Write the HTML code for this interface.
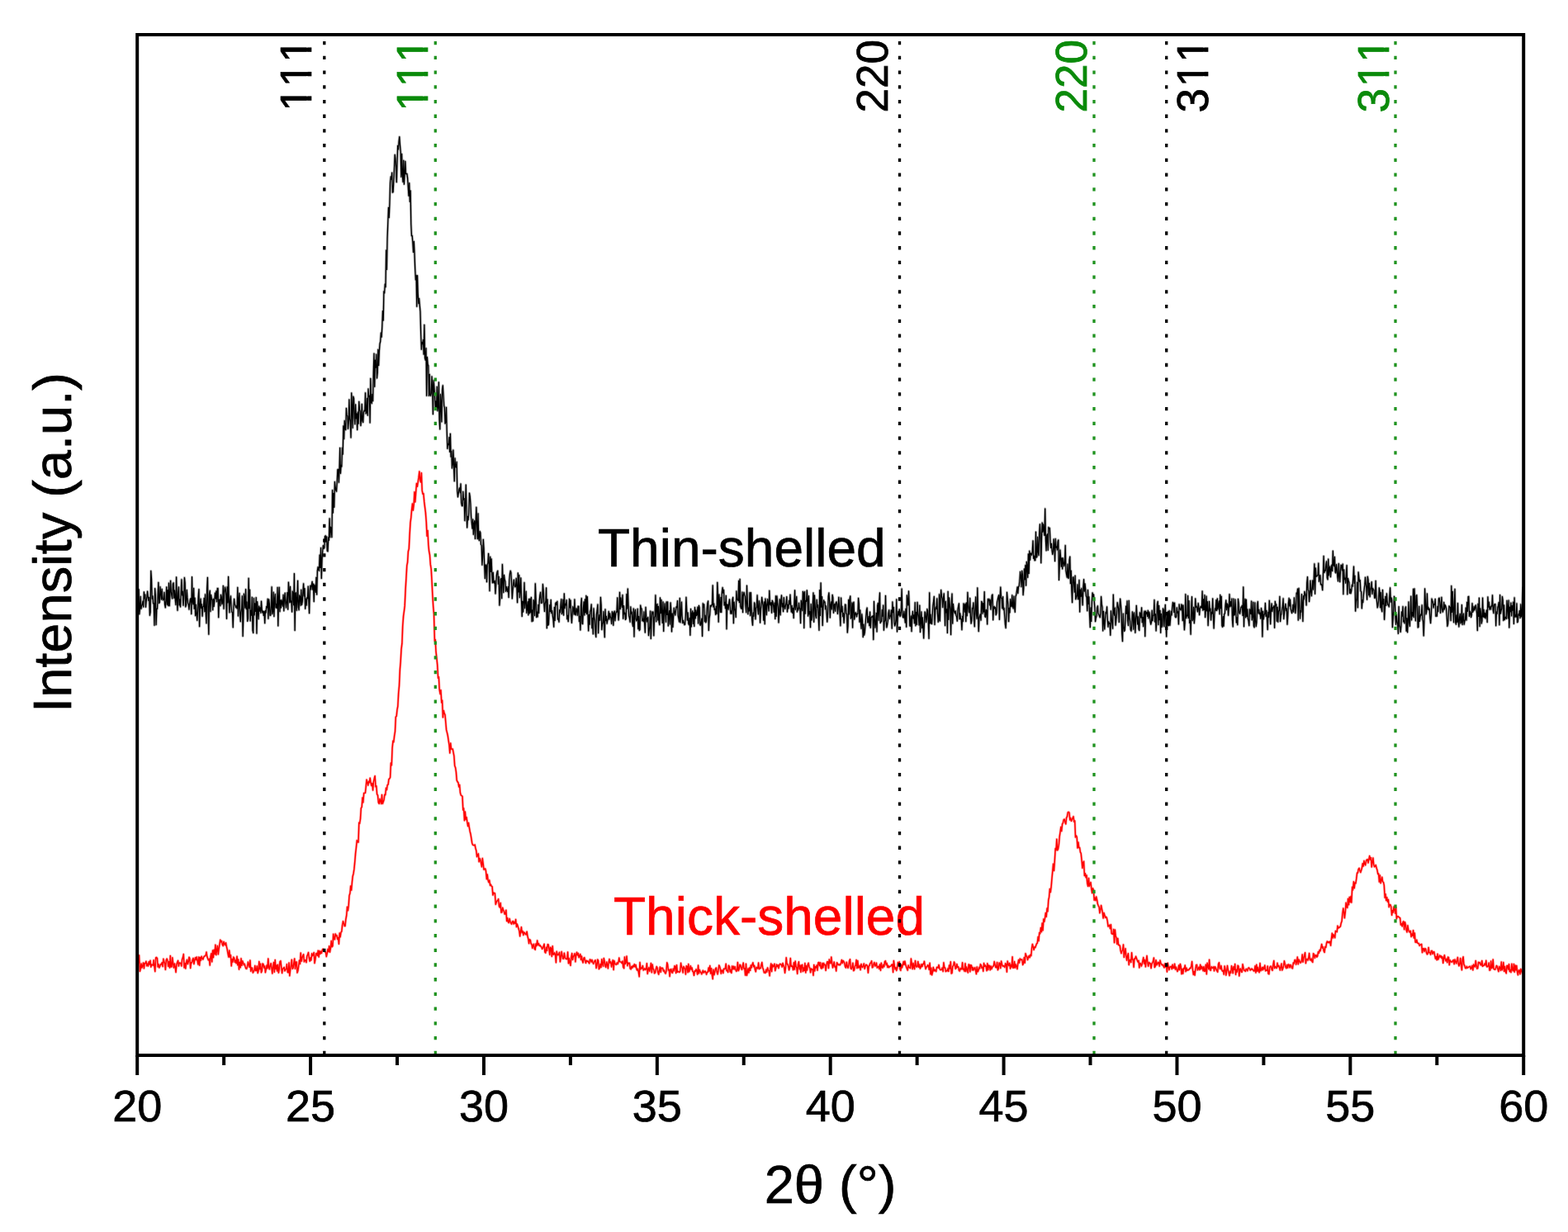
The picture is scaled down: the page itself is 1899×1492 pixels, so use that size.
<!DOCTYPE html>
<html><head><meta charset="utf-8"><style>
html,body{margin:0;padding:0;background:#fff;}
svg{display:block;}
text{font-family:"Liberation Sans",Arial,sans-serif;font-kerning:none;stroke-width:0.7px;}
</style></head><body>
<svg width="1899" height="1492" viewBox="0 0 1899 1492">
<rect width="1899" height="1492" fill="#fff"/>
<g font-size="53"><g transform="translate(377,136.5) rotate(-90)"><text x="1.74 31.22 60.69" fill="#000" stroke="#000">111</text><rect x="4.18" y="-5.76" width="10.53" height="7.56" fill="#fff"/><rect x="20.11" y="-5.76" width="10.12" height="7.56" fill="#fff"/><rect x="33.65" y="-5.76" width="10.53" height="7.56" fill="#fff"/><rect x="49.59" y="-5.76" width="10.12" height="7.56" fill="#fff"/><rect x="63.13" y="-5.76" width="10.53" height="7.56" fill="#fff"/><rect x="79.06" y="-5.76" width="10.12" height="7.56" fill="#fff"/></g><g transform="translate(518,136.5) rotate(-90)"><text x="1.74 31.22 60.69" fill="#0a8a0a" stroke="#0a8a0a">111</text><rect x="4.18" y="-5.76" width="10.53" height="7.56" fill="#fff"/><rect x="20.11" y="-5.76" width="10.12" height="7.56" fill="#fff"/><rect x="33.65" y="-5.76" width="10.53" height="7.56" fill="#fff"/><rect x="49.59" y="-5.76" width="10.12" height="7.56" fill="#fff"/><rect x="63.13" y="-5.76" width="10.53" height="7.56" fill="#fff"/><rect x="79.06" y="-5.76" width="10.12" height="7.56" fill="#fff"/></g><g transform="translate(1075,136.5) rotate(-90)"><text x="0.00 29.48 58.95" fill="#000" stroke="#000">220</text></g><g transform="translate(1315.5,136.5) rotate(-90)"><text x="0.00 29.48 58.95" fill="#0a8a0a" stroke="#0a8a0a">220</text></g><g transform="translate(1463,136.5) rotate(-90)"><text x="0.00 31.22 60.69" fill="#000" stroke="#000">311</text><rect x="33.65" y="-5.76" width="10.53" height="7.56" fill="#fff"/><rect x="49.59" y="-5.76" width="10.12" height="7.56" fill="#fff"/><rect x="63.13" y="-5.76" width="10.53" height="7.56" fill="#fff"/><rect x="79.06" y="-5.76" width="10.12" height="7.56" fill="#fff"/></g><g transform="translate(1681.5,136.5) rotate(-90)"><text x="0.00 31.22 60.69" fill="#0a8a0a" stroke="#0a8a0a">311</text><rect x="33.65" y="-5.76" width="10.53" height="7.56" fill="#fff"/><rect x="49.59" y="-5.76" width="10.12" height="7.56" fill="#fff"/><rect x="63.13" y="-5.76" width="10.53" height="7.56" fill="#fff"/><rect x="79.06" y="-5.76" width="10.12" height="7.56" fill="#fff"/></g></g>
<text x="724" y="686" font-size="64" fill="#000" stroke="#000">Thin-shelled</text>
<text x="743" y="1132" font-size="64" fill="#ff0000" stroke="#ff0000">Thick-shelled</text>
<g><path d="M166.0 738.7L166.7 744.6L167.4 737.1L168.1 713.9L168.8 743.7L169.5 736.7L170.2 722.4L170.9 737.3L171.6 733.7L172.3 732.2L173.0 728.1L173.7 735.0L174.4 716.9L175.1 724.7L175.8 720.2L176.5 735.2L177.2 727.5L177.9 722.9L178.6 716.2L179.3 723.5L180.0 727.3L180.7 723.4L181.4 745.2L182.1 741.3L182.8 691.5L183.5 701.4L184.2 725.2L184.9 721.9L185.6 730.8L186.3 730.9L187.0 757.3L187.7 712.7L188.4 722.9L189.1 756.5L189.8 737.2L190.5 737.4L191.2 721.1L191.9 705.4L192.6 730.4L193.3 729.4L194.0 710.7L194.7 717.9L195.4 726.0L196.1 713.4L196.8 724.7L197.5 726.8L198.2 725.5L198.9 717.4L199.6 732.2L200.3 735.8L201.0 727.4L201.7 711.0L202.4 732.2L203.1 714.6L203.8 733.5L204.5 706.1L205.2 733.6L205.9 720.4L206.6 703.3L207.3 716.4L208.0 721.6L208.7 724.8L209.4 707.4L210.1 705.8L210.8 724.2L211.5 715.0L212.2 724.9L212.9 732.4L213.6 698.9L214.3 725.6L215.0 739.2L215.7 718.1L216.4 711.0L217.1 732.9L217.8 726.0L218.5 734.9L219.2 717.6L219.9 701.8L220.6 720.9L221.3 716.2L222.0 733.2L222.7 725.0L223.4 699.6L224.1 705.7L224.8 734.9L225.5 732.4L226.2 714.4L226.9 723.9L227.6 730.7L228.3 731.6L229.0 738.0L229.7 730.2L230.4 726.1L231.1 724.6L231.8 743.6L232.5 698.7L233.2 728.7L233.9 731.8L234.6 712.4L235.3 737.2L236.0 724.2L236.7 745.6L237.4 732.3L238.1 743.5L238.8 751.3L239.5 739.8L240.2 722.5L240.9 713.7L241.6 758.7L242.3 733.1L243.0 725.1L243.7 736.5L244.4 731.9L245.1 746.2L245.8 734.9L246.5 734.5L247.2 724.4L247.9 740.6L248.6 719.8L249.3 743.1L250.0 754.8L250.7 712.6L251.4 699.4L252.1 741.8L252.8 768.2L253.5 719.0L254.2 715.3L254.9 740.5L255.6 720.5L256.3 724.9L257.0 726.8L257.7 738.6L258.4 725.3L259.1 734.4L259.8 727.7L260.5 718.1L261.2 724.9L261.9 715.8L262.6 728.7L263.3 712.6L264.0 712.6L264.7 747.7L265.4 726.3L266.1 726.0L266.8 733.6L267.5 720.3L268.2 722.8L268.9 731.7L269.6 729.6L270.3 709.5L271.0 737.2L271.7 717.4L272.4 711.1L273.1 713.5L273.8 720.9L274.5 749.3L275.2 710.8L275.9 729.9L276.6 698.5L277.3 728.7L278.0 741.8L278.7 726.6L279.4 721.8L280.1 734.2L280.8 741.3L281.5 741.3L282.2 759.8L282.9 735.9L283.6 725.3L284.3 732.0L285.0 733.0L285.7 735.7L286.4 733.9L287.1 736.8L287.8 711.5L288.5 745.9L289.2 726.6L289.9 718.4L290.6 743.4L291.3 752.7L292.0 741.4L292.7 736.8L293.4 721.8L294.1 770.4L294.8 746.8L295.5 719.1L296.2 724.1L296.9 736.1L297.6 713.7L298.3 737.5L299.0 729.0L299.7 752.3L300.4 748.9L301.1 700.3L301.8 736.7L302.5 714.2L303.2 751.9L303.9 739.4L304.6 745.0L305.3 723.3L306.0 763.3L306.7 766.4L307.4 724.6L308.1 744.8L308.8 730.9L309.5 740.3L310.2 723.7L310.9 767.1L311.6 728.7L312.3 738.3L313.0 749.6L313.7 734.2L314.4 740.2L315.1 736.0L315.8 742.2L316.5 728.2L317.2 738.5L317.9 741.8L318.6 740.1L319.3 745.4L320.0 740.5L320.7 754.7L321.4 739.7L322.1 742.0L322.8 734.4L323.5 735.9L324.2 725.3L324.9 749.2L325.6 725.9L326.3 730.8L327.0 745.3L327.7 745.2L328.4 733.6L329.1 710.8L329.8 743.5L330.5 740.7L331.2 717.2L331.9 746.5L332.6 725.9L333.3 719.6L334.0 735.9L334.7 731.7L335.4 736.6L336.1 711.4L336.8 757.9L337.5 724.5L338.2 711.3L338.9 740.6L339.6 727.0L340.3 736.0L341.0 726.6L341.7 730.2L342.4 734.2L343.1 720.4L343.8 739.8L344.5 723.8L345.2 718.2L345.9 731.0L346.6 735.9L347.3 726.6L348.0 717.7L348.7 738.0L349.4 705.2L350.1 715.1L350.8 729.7L351.5 710.4L352.2 729.3L352.9 728.1L353.6 741.0L354.3 716.1L355.0 719.9L355.7 732.8L356.4 694.7L357.1 763.4L357.8 718.4L358.5 717.8L359.2 739.3L359.9 727.0L360.6 703.3L361.3 735.7L362.0 738.7L362.7 720.9L363.4 723.1L364.1 733.3L364.8 714.3L365.5 732.3L366.2 728.8L366.9 716.8L367.6 706.8L368.3 721.9L369.0 712.7L369.7 737.2L370.4 725.2L371.1 733.0L371.8 723.7L372.5 724.8L373.2 710.2L373.9 728.7L374.6 742.6L375.3 714.0L376.0 709.2L376.7 713.9L377.4 708.5L378.1 704.4L378.8 714.2L379.5 707.2L380.2 728.5L380.9 708.2L381.6 710.9L382.3 717.4L383.0 699.3L383.7 720.0L384.4 691.1L385.1 686.7L385.8 690.2L386.5 691.2L387.2 672.1L387.9 687.4L388.6 663.6L389.3 700.4L390.0 678.1L390.7 667.5L391.4 660.7L392.1 664.3L392.8 663.3L393.5 649.7L394.2 648.8L394.9 656.2L395.6 649.9L396.3 667.1L397.0 667.7L397.7 650.9L398.4 654.3L399.1 628.0L399.8 650.5L400.5 638.2L401.2 640.9L401.9 650.5L402.6 593.7L403.3 621.0L404.0 597.3L404.7 614.3L405.4 583.6L406.1 589.3L406.8 593.8L407.5 595.1L408.2 584.1L408.9 568.8L409.6 568.4L410.3 584.2L411.0 568.6L411.7 542.5L412.4 573.3L413.1 563.5L413.8 565.1L414.5 542.3L415.2 550.1L415.9 515.8L416.6 531.6L417.3 509.6L418.0 519.8L418.7 520.5L419.4 494.5L420.1 503.3L420.8 503.7L421.5 519.2L422.2 511.8L422.9 484.0L423.6 507.1L424.3 510.8L425.0 529.9L425.7 476.0L426.4 491.9L427.1 518.2L427.8 480.2L428.5 482.4L429.2 506.6L429.9 513.6L430.6 489.9L431.3 506.8L432.0 500.9L432.7 520.5L433.4 499.1L434.1 513.0L434.8 486.4L435.5 496.4L436.2 497.8L436.9 515.4L437.6 507.8L438.3 489.5L439.0 509.9L439.7 511.4L440.4 499.2L441.1 497.2L441.8 497.8L442.5 475.8L443.2 500.9L443.9 499.9L444.6 482.4L445.3 503.0L446.0 471.0L446.7 480.4L447.4 479.4L448.1 511.9L448.8 458.4L449.5 486.2L450.2 488.6L450.9 477.4L451.6 485.6L452.3 450.5L453.0 428.2L453.7 468.3L454.4 436.1L455.1 445.2L455.8 429.2L456.5 457.9L457.2 451.0L457.9 423.3L458.6 442.5L459.3 425.8L460.0 416.5L460.7 413.5L461.4 403.1L462.1 408.1L462.8 395.5L463.5 376.7L464.2 388.0L464.9 352.9L465.6 355.0L466.3 344.2L467.0 347.6L467.7 303.1L468.4 326.4L469.1 288.1L469.8 269.7L470.5 251.4L471.2 263.5L471.9 247.1L472.6 221.1L473.3 214.0L474.0 217.2L474.7 209.2L475.4 233.1L476.1 232.5L476.8 218.6L477.5 205.0L478.2 187.5L478.9 191.8L479.6 202.3L480.3 220.6L481.0 198.0L481.7 176.5L482.4 180.9L483.1 171.3L483.8 165.7L484.5 176.2L485.2 184.2L485.9 214.3L486.6 186.4L487.3 210.9L488.0 220.3L488.7 194.3L489.4 223.1L490.1 211.2L490.8 195.5L491.5 210.7L492.2 210.5L492.9 210.4L493.6 215.6L494.3 226.5L495.0 237.1L495.7 221.7L496.4 244.3L497.1 230.9L497.8 271.3L498.5 285.6L499.2 285.4L499.9 294.0L500.6 305.4L501.3 292.4L502.0 306.6L502.7 325.4L503.4 338.8L504.1 333.5L504.8 371.2L505.5 333.7L506.2 355.9L506.9 367.5L507.6 361.5L508.3 369.8L509.0 377.4L509.7 403.9L510.4 423.1L511.1 414.5L511.8 416.5L512.5 411.6L513.2 429.1L513.9 393.4L514.6 433.5L515.3 436.2L516.0 421.7L516.7 479.2L517.4 432.5L518.1 441.2L518.8 442.8L519.5 479.3L520.2 453.3L520.9 478.2L521.6 479.3L522.3 476.6L523.0 456.0L523.7 467.6L524.4 501.6L525.1 460.7L525.8 468.3L526.5 478.8L527.2 493.3L527.9 486.0L528.6 493.5L529.3 468.3L530.0 497.6L530.7 493.0L531.4 463.0L532.1 508.3L532.8 519.8L533.5 477.6L534.2 490.4L534.9 510.8L535.6 472.0L536.3 466.8L537.0 478.8L537.7 491.3L538.4 493.6L539.1 512.9L539.8 511.2L540.5 493.3L541.2 521.8L541.9 543.3L542.6 537.6L543.3 538.7L544.0 529.7L544.7 547.3L545.4 525.3L546.1 553.2L546.8 546.3L547.5 567.0L548.2 562.1L548.9 545.1L549.6 564.8L550.3 582.7L551.0 554.9L551.7 565.7L552.4 566.0L553.1 559.5L553.8 594.6L554.5 601.8L555.2 597.6L555.9 592.6L556.6 590.9L557.3 596.6L558.0 586.0L558.7 608.8L559.4 612.5L560.1 612.7L560.8 595.5L561.5 605.0L562.2 603.6L562.9 630.4L563.6 611.6L564.3 587.2L565.0 618.1L565.7 638.9L566.4 625.4L567.1 629.7L567.8 620.8L568.5 597.2L569.2 601.1L569.9 610.0L570.6 626.0L571.3 633.3L572.0 640.0L572.7 629.0L573.4 647.2L574.1 633.8L574.8 630.7L575.5 652.4L576.2 632.8L576.9 614.3L577.6 635.8L578.3 652.5L579.0 621.9L579.7 651.8L580.4 654.5L581.1 643.4L581.8 645.0L582.5 659.5L583.2 660.5L583.9 684.2L584.6 675.3L585.3 653.4L586.0 664.0L586.7 684.4L587.4 700.4L588.1 684.0L588.8 684.7L589.5 704.7L590.2 683.9L590.9 682.0L591.6 670.4L592.3 682.4L593.0 715.6L593.7 674.3L594.4 692.4L595.1 676.8L595.8 695.9L596.5 705.8L597.2 693.3L597.9 705.5L598.6 706.0L599.3 703.5L600.0 718.9L600.7 708.5L601.4 696.5L602.1 692.6L602.8 691.3L603.5 707.2L604.2 698.5L604.9 733.0L605.6 724.8L606.3 701.4L607.0 700.6L607.7 724.6L608.4 683.6L609.1 700.7L609.8 717.5L610.5 696.4L611.2 702.0L611.9 703.9L612.6 716.1L613.3 710.6L614.0 714.1L614.7 716.7L615.4 710.6L616.1 723.4L616.8 702.6L617.5 694.8L618.2 691.3L618.9 693.5L619.6 706.3L620.3 724.9L621.0 715.5L621.7 707.1L622.4 702.2L623.1 708.9L623.8 710.9L624.5 709.7L625.2 700.3L625.9 711.9L626.6 729.7L627.3 694.0L628.0 716.9L628.7 696.4L629.4 723.6L630.1 714.1L630.8 699.9L631.5 725.8L632.2 746.4L632.9 728.1L633.6 741.0L634.3 728.1L635.0 705.6L635.7 736.5L636.4 727.1L637.1 716.2L637.8 742.3L638.5 737.3L639.2 728.7L639.9 744.8L640.6 725.6L641.3 742.8L642.0 725.1L642.7 741.8L643.4 723.5L644.1 752.6L644.8 738.8L645.5 752.0L646.2 726.7L646.9 730.6L647.6 745.4L648.3 706.8L649.0 724.0L649.7 747.5L650.4 741.2L651.1 747.0L651.8 732.6L652.5 742.4L653.2 728.0L653.9 720.8L654.6 717.3L655.3 730.2L656.0 730.3L656.7 729.5L657.4 707.6L658.1 714.5L658.8 731.1L659.5 740.4L660.2 730.9L660.9 727.8L661.6 711.9L662.3 760.7L663.0 725.9L663.7 757.3L664.4 756.2L665.1 741.9L665.8 732.7L666.5 740.7L667.2 726.5L667.9 742.5L668.6 739.7L669.3 745.7L670.0 750.5L670.7 759.2L671.4 735.4L672.1 751.4L672.8 730.8L673.5 729.6L674.2 732.5L674.9 728.3L675.6 750.2L676.3 749.4L677.0 753.2L677.7 738.6L678.4 741.8L679.1 732.2L679.8 725.7L680.5 743.5L681.2 741.5L681.9 726.1L682.6 745.0L683.3 718.9L684.0 736.5L684.7 731.5L685.4 732.8L686.1 726.7L686.8 749.7L687.5 745.5L688.2 752.6L688.9 741.1L689.6 725.3L690.3 735.8L691.0 727.0L691.7 745.6L692.4 754.3L693.1 744.7L693.8 734.6L694.5 737.4L695.2 744.1L695.9 725.9L696.6 744.0L697.3 744.8L698.0 736.7L698.7 738.3L699.4 745.1L700.1 734.2L700.8 734.4L701.5 752.6L702.2 746.5L702.9 763.0L703.6 733.3L704.3 724.6L705.0 755.2L705.7 755.6L706.4 736.8L707.1 728.8L707.8 744.9L708.5 725.9L709.2 741.9L709.9 721.5L710.6 743.5L711.3 722.7L712.0 744.0L712.7 763.9L713.4 744.3L714.1 756.2L714.8 740.7L715.5 738.3L716.2 731.9L716.9 760.6L717.6 748.7L718.3 767.8L719.0 736.8L719.7 747.7L720.4 751.4L721.1 766.6L721.8 771.4L722.5 743.9L723.2 738.7L723.9 732.1L724.6 766.6L725.3 750.8L726.0 744.6L726.7 751.3L727.4 723.4L728.1 732.6L728.8 762.5L729.5 756.4L730.2 753.7L730.9 740.7L731.6 758.5L732.3 771.7L733.0 738.0L733.7 751.7L734.4 746.5L735.1 755.2L735.8 751.1L736.5 749.0L737.2 740.5L737.9 749.9L738.6 742.8L739.3 747.7L740.0 748.1L740.7 755.4L741.4 740.7L742.1 742.7L742.8 757.3L743.5 741.8L744.2 740.2L744.9 751.7L745.6 744.0L746.3 740.8L747.0 741.2L747.7 723.9L748.4 742.0L749.1 750.9L749.8 741.8L750.5 717.3L751.2 737.5L751.9 723.8L752.6 731.3L753.3 735.4L754.0 720.6L754.7 749.2L755.4 733.7L756.1 743.6L756.8 742.1L757.5 750.4L758.2 749.1L758.9 719.6L759.6 737.0L760.3 713.1L761.0 732.4L761.7 745.9L762.4 748.5L763.1 753.2L763.8 734.9L764.5 743.2L765.2 741.1L765.9 754.6L766.6 758.6L767.3 737.1L768.0 771.0L768.7 741.9L769.4 738.3L770.1 749.7L770.8 752.0L771.5 750.1L772.2 737.3L772.9 761.6L773.6 746.3L774.3 763.5L775.0 762.4L775.7 733.1L776.4 736.9L777.1 737.1L777.8 751.6L778.5 749.8L779.2 752.6L779.9 740.8L780.6 754.9L781.3 766.0L782.0 735.4L782.7 748.1L783.4 753.0L784.1 748.7L784.8 747.7L785.5 769.5L786.2 763.8L786.9 758.6L787.6 740.1L788.3 773.4L789.0 751.9L789.7 740.9L790.4 743.1L791.1 741.0L791.8 769.8L792.5 747.9L793.2 745.9L793.9 720.8L794.6 752.8L795.3 732.5L796.0 731.5L796.7 751.0L797.4 734.4L798.1 753.4L798.8 756.6L799.5 724.0L800.2 742.6L800.9 726.5L801.6 743.4L802.3 754.4L803.0 728.9L803.7 764.4L804.4 740.8L805.1 731.0L805.8 742.9L806.5 753.2L807.2 728.9L807.9 744.4L808.6 729.0L809.3 757.9L810.0 746.1L810.7 739.6L811.4 756.0L812.1 729.9L812.8 739.9L813.5 764.9L814.2 742.8L814.9 759.4L815.6 746.3L816.3 736.3L817.0 741.4L817.7 745.0L818.4 739.6L819.1 734.9L819.8 735.5L820.5 727.7L821.2 745.6L821.9 748.8L822.6 752.9L823.3 724.4L824.0 753.8L824.7 744.7L825.4 729.1L826.1 746.3L826.8 754.5L827.5 751.4L828.2 753.9L828.9 756.6L829.6 756.2L830.3 746.0L831.0 723.3L831.7 738.3L832.4 751.0L833.1 742.0L833.8 755.2L834.5 756.7L835.2 748.5L835.9 769.3L836.6 737.5L837.3 759.0L838.0 743.4L838.7 740.0L839.4 755.4L840.1 741.9L840.8 758.4L841.5 735.6L842.2 748.9L842.9 739.0L843.6 745.6L844.3 743.9L845.0 735.2L845.7 754.9L846.4 733.4L847.1 736.0L847.8 756.7L848.5 757.2L849.2 753.3L849.9 749.2L850.6 770.4L851.3 730.8L852.0 735.4L852.7 732.0L853.4 752.6L854.1 745.2L854.8 753.8L855.5 751.7L856.2 737.7L856.9 730.5L857.6 728.0L858.3 763.4L859.0 749.0L859.7 744.3L860.4 733.4L861.1 734.6L861.8 732.6L862.5 732.5L863.2 708.9L863.9 734.9L864.6 731.1L865.3 738.4L866.0 737.3L866.7 744.3L867.4 734.4L868.1 743.3L868.8 705.4L869.5 721.6L870.2 753.2L870.9 720.0L871.6 730.4L872.3 741.4L873.0 723.4L873.7 741.4L874.4 717.1L875.1 711.6L875.8 718.1L876.5 714.5L877.2 732.9L877.9 729.5L878.6 736.8L879.3 721.4L880.0 761.7L880.7 732.0L881.4 732.6L882.1 738.2L882.8 730.3L883.5 725.9L884.2 733.9L884.9 743.1L885.6 740.2L886.3 743.2L887.0 726.1L887.7 723.5L888.4 754.7L889.1 729.2L889.8 737.1L890.5 739.9L891.2 747.4L891.9 716.0L892.6 725.7L893.3 726.1L894.0 727.4L894.7 703.5L895.4 729.6L896.1 701.4L896.8 734.0L897.5 736.6L898.2 737.3L898.9 717.1L899.6 741.6L900.3 721.2L901.0 717.4L901.7 720.4L902.4 722.2L903.1 734.1L903.8 741.7L904.5 709.2L905.2 727.1L905.9 743.6L906.6 736.2L907.3 739.9L908.0 717.7L908.7 745.6L909.4 717.7L910.1 737.7L910.8 751.0L911.5 757.1L912.2 742.0L912.9 746.3L913.6 729.8L914.3 731.2L915.0 749.8L915.7 736.7L916.4 735.2L917.1 720.8L917.8 738.3L918.5 743.8L919.2 727.6L919.9 730.8L920.6 754.1L921.3 738.3L922.0 733.0L922.7 723.4L923.4 729.1L924.1 733.1L924.8 751.2L925.5 728.9L926.2 755.7L926.9 725.1L927.6 731.3L928.3 744.7L929.0 732.4L929.7 725.6L930.4 733.4L931.1 739.8L931.8 715.3L932.5 731.6L933.2 733.1L933.9 729.6L934.6 742.2L935.3 727.3L936.0 729.3L936.7 733.6L937.4 741.1L938.1 730.1L938.8 749.4L939.5 721.8L940.2 746.3L940.9 721.8L941.6 729.4L942.3 735.1L943.0 753.9L943.7 740.6L944.4 725.8L945.1 744.8L945.8 727.6L946.5 721.0L947.2 734.9L947.9 730.9L948.6 740.6L949.3 723.7L950.0 734.3L950.7 737.3L951.4 733.4L952.1 730.1L952.8 722.7L953.5 741.0L954.2 732.5L954.9 736.8L955.6 727.5L956.3 731.8L957.0 720.2L957.7 733.1L958.4 741.0L959.1 733.6L959.8 742.4L960.5 736.4L961.2 748.4L961.9 731.0L962.6 714.9L963.3 738.3L964.0 731.6L964.7 722.6L965.4 741.0L966.1 736.7L966.8 738.9L967.5 730.3L968.2 736.5L968.9 737.3L969.6 754.6L970.3 727.3L971.0 735.1L971.7 739.5L972.4 716.4L973.1 718.0L973.8 760.5L974.5 716.6L975.2 743.1L975.9 727.3L976.6 728.4L977.3 714.9L978.0 727.1L978.7 746.0L979.4 721.7L980.1 743.9L980.8 740.7L981.5 759.7L982.2 731.7L982.9 751.1L983.6 746.8L984.3 733.5L985.0 717.9L985.7 753.3L986.4 721.0L987.1 730.8L987.8 745.9L988.5 748.4L989.2 726.3L989.9 735.2L990.6 732.6L991.3 748.6L992.0 763.3L992.7 714.7L993.4 745.4L994.1 706.0L994.8 735.2L995.5 722.7L996.2 757.4L996.9 737.0L997.6 727.0L998.3 729.7L999.0 729.0L999.7 737.7L1000.4 733.9L1001.1 743.1L1001.8 753.1L1002.5 743.8L1003.2 722.3L1003.9 717.9L1004.6 727.7L1005.3 748.0L1006.0 732.5L1006.7 728.8L1007.4 737.9L1008.1 720.5L1008.8 723.7L1009.5 742.2L1010.2 733.1L1010.9 731.4L1011.6 740.1L1012.3 730.0L1013.0 728.9L1013.7 731.4L1014.4 743.3L1015.1 737.3L1015.8 723.3L1016.5 733.3L1017.2 744.0L1017.9 757.8L1018.6 724.1L1019.3 740.9L1020.0 734.3L1020.7 746.6L1021.4 742.6L1022.1 754.3L1022.8 743.8L1023.5 732.1L1024.2 732.4L1024.9 743.2L1025.6 743.3L1026.3 766.0L1027.0 758.2L1027.7 726.5L1028.4 743.9L1029.1 725.3L1029.8 722.0L1030.5 749.1L1031.2 747.3L1031.9 729.8L1032.6 760.1L1033.3 731.0L1034.0 729.2L1034.7 750.0L1035.4 745.5L1036.1 741.7L1036.8 743.1L1037.5 746.8L1038.2 743.2L1038.9 743.3L1039.6 724.4L1040.3 731.0L1041.0 753.3L1041.7 738.9L1042.4 753.3L1043.1 761.3L1043.8 743.8L1044.5 751.2L1045.2 771.5L1045.9 756.2L1046.6 769.2L1047.3 765.8L1048.0 757.1L1048.7 747.5L1049.4 739.2L1050.1 736.1L1050.8 753.9L1051.5 753.6L1052.2 746.3L1052.9 757.6L1053.6 741.1L1054.3 760.2L1055.0 748.0L1055.7 746.9L1056.4 747.1L1057.1 745.8L1057.8 774.6L1058.5 728.5L1059.2 748.3L1059.9 760.1L1060.6 753.9L1061.3 742.3L1062.0 765.0L1062.7 733.4L1063.4 730.5L1064.1 751.3L1064.8 728.5L1065.5 718.0L1066.2 754.4L1066.9 752.9L1067.6 752.5L1068.3 738.7L1069.0 746.1L1069.7 733.1L1070.4 763.2L1071.1 752.5L1071.8 751.8L1072.5 721.5L1073.2 752.3L1073.9 759.9L1074.6 756.6L1075.3 751.7L1076.0 742.7L1076.7 738.8L1077.4 749.3L1078.1 746.7L1078.8 745.0L1079.5 738.8L1080.2 761.0L1080.9 729.0L1081.6 741.7L1082.3 735.4L1083.0 753.4L1083.7 757.9L1084.4 755.7L1085.1 750.2L1085.8 726.0L1086.5 765.0L1087.2 747.5L1087.9 740.5L1088.6 742.0L1089.3 737.9L1090.0 746.5L1090.7 745.3L1091.4 737.8L1092.1 713.1L1092.8 741.6L1093.5 747.4L1094.2 748.0L1094.9 740.5L1095.6 747.4L1096.3 754.0L1097.0 737.3L1097.7 759.2L1098.4 721.0L1099.1 728.9L1099.8 733.0L1100.5 716.0L1101.2 732.5L1101.9 758.0L1102.6 758.3L1103.3 746.0L1104.0 764.6L1104.7 748.4L1105.4 740.5L1106.1 749.0L1106.8 744.9L1107.5 754.8L1108.2 729.7L1108.9 757.8L1109.6 741.5L1110.3 756.3L1111.0 729.5L1111.7 742.1L1112.4 747.7L1113.1 756.9L1113.8 733.2L1114.5 765.5L1115.2 752.3L1115.9 741.0L1116.6 760.5L1117.3 748.0L1118.0 759.9L1118.7 772.9L1119.4 755.5L1120.1 741.0L1120.8 742.2L1121.5 753.5L1122.2 750.2L1122.9 737.6L1123.6 739.5L1124.3 754.4L1125.0 773.3L1125.7 717.8L1126.4 754.9L1127.1 744.2L1127.8 754.9L1128.5 755.5L1129.2 745.9L1129.9 733.3L1130.6 728.4L1131.3 722.4L1132.0 756.4L1132.7 739.7L1133.4 735.2L1134.1 737.4L1134.8 724.8L1135.5 742.6L1136.2 753.3L1136.9 750.6L1137.6 719.8L1138.3 752.1L1139.0 727.8L1139.7 714.6L1140.4 722.0L1141.1 724.8L1141.8 735.5L1142.5 724.1L1143.2 718.8L1143.9 732.9L1144.6 757.6L1145.3 728.5L1146.0 741.8L1146.7 737.8L1147.4 766.4L1148.1 716.4L1148.8 750.3L1149.5 724.0L1150.2 732.1L1150.9 738.1L1151.6 768.6L1152.3 731.3L1153.0 719.1L1153.7 755.1L1154.4 731.5L1155.1 738.5L1155.8 741.2L1156.5 742.8L1157.2 740.0L1157.9 745.2L1158.6 746.7L1159.3 752.1L1160.0 737.9L1160.7 734.4L1161.4 731.0L1162.1 749.7L1162.8 742.8L1163.5 749.7L1164.2 749.7L1164.9 762.7L1165.6 746.3L1166.3 752.6L1167.0 730.9L1167.7 732.4L1168.4 741.2L1169.1 731.1L1169.8 752.6L1170.5 730.0L1171.2 745.7L1171.9 717.4L1172.6 732.5L1173.3 741.0L1174.0 741.8L1174.7 724.5L1175.4 745.6L1176.1 755.1L1176.8 751.3L1177.5 736.4L1178.2 736.9L1178.9 729.9L1179.6 750.0L1180.3 758.8L1181.0 736.4L1181.7 723.0L1182.4 743.9L1183.1 749.2L1183.8 711.9L1184.5 742.2L1185.2 764.6L1185.9 749.2L1186.6 745.9L1187.3 744.0L1188.0 751.1L1188.7 728.4L1189.4 729.3L1190.1 743.1L1190.8 730.7L1191.5 741.1L1192.2 716.7L1192.9 746.5L1193.6 747.4L1194.3 738.4L1195.0 739.7L1195.7 755.9L1196.4 725.6L1197.1 727.5L1197.8 725.4L1198.5 732.9L1199.2 726.3L1199.9 738.0L1200.6 730.2L1201.3 721.2L1202.0 720.0L1202.7 750.8L1203.4 736.3L1204.1 734.3L1204.8 737.0L1205.5 735.6L1206.2 744.7L1206.9 742.3L1207.6 729.1L1208.3 726.2L1209.0 722.9L1209.7 720.7L1210.4 750.3L1211.1 723.9L1211.8 711.1L1212.5 724.1L1213.2 724.4L1213.9 736.7L1214.6 722.7L1215.3 738.4L1216.0 736.4L1216.7 746.0L1217.4 755.9L1218.1 760.5L1218.8 746.0L1219.5 717.3L1220.2 725.4L1220.9 732.4L1221.6 752.6L1222.3 736.4L1223.0 741.8L1223.7 725.7L1224.4 733.8L1225.1 734.7L1225.8 720.8L1226.5 734.2L1227.2 736.9L1227.9 722.2L1228.6 734.9L1229.3 741.3L1230.0 722.4L1230.7 720.6L1231.4 715.9L1232.1 711.0L1232.8 718.4L1233.5 710.4L1234.2 710.0L1234.9 703.0L1235.6 692.5L1236.3 697.7L1237.0 710.6L1237.7 691.4L1238.4 695.8L1239.1 720.5L1239.8 712.4L1240.5 688.9L1241.2 701.8L1241.9 684.6L1242.6 709.0L1243.3 680.5L1244.0 686.0L1244.7 699.3L1245.4 670.9L1246.1 694.4L1246.8 667.3L1247.5 678.1L1248.2 670.0L1248.9 670.9L1249.6 672.2L1250.3 667.8L1251.0 654.9L1251.7 676.3L1252.4 673.1L1253.1 678.7L1253.8 678.6L1254.5 644.2L1255.2 675.1L1255.9 674.1L1256.6 650.5L1257.3 668.4L1258.0 672.4L1258.7 646.5L1259.4 635.0L1260.1 646.4L1260.8 681.7L1261.5 651.7L1262.2 633.1L1262.9 644.3L1263.6 634.8L1264.3 642.1L1265.0 648.4L1265.7 616.1L1266.4 652.9L1267.1 666.8L1267.8 648.0L1268.5 646.9L1269.2 666.3L1269.9 638.6L1270.6 640.2L1271.3 639.6L1272.0 655.7L1272.7 663.4L1273.4 658.4L1274.1 667.1L1274.8 671.3L1275.5 668.1L1276.2 653.0L1276.9 660.4L1277.6 679.6L1278.3 652.6L1279.0 663.1L1279.7 662.0L1280.4 665.9L1281.1 656.1L1281.8 654.0L1282.5 702.4L1283.2 684.5L1283.9 666.1L1284.6 675.6L1285.3 686.1L1286.0 675.7L1286.7 688.9L1287.4 675.9L1288.1 680.7L1288.8 685.6L1289.5 682.7L1290.2 660.6L1290.9 691.2L1291.6 695.4L1292.3 699.2L1293.0 683.2L1293.7 700.2L1294.4 700.0L1295.1 678.0L1295.8 674.2L1296.5 706.7L1297.2 691.2L1297.9 715.2L1298.6 729.6L1299.3 699.1L1300.0 699.0L1300.7 708.0L1301.4 717.1L1302.1 697.2L1302.8 725.7L1303.5 723.8L1304.2 720.9L1304.9 707.9L1305.6 725.5L1306.3 725.6L1307.0 702.6L1307.7 741.0L1308.4 714.1L1309.1 722.3L1309.8 712.6L1310.5 723.5L1311.2 732.8L1311.9 710.9L1312.6 701.7L1313.3 716.1L1314.0 706.9L1314.7 713.9L1315.4 721.8L1316.1 723.4L1316.8 739.7L1317.5 714.6L1318.2 731.3L1318.9 722.8L1319.6 745.2L1320.3 759.6L1321.0 735.8L1321.7 752.4L1322.4 728.8L1323.1 717.9L1323.8 722.6L1324.5 720.0L1325.2 727.8L1325.9 736.4L1326.6 752.6L1327.3 748.2L1328.0 746.1L1328.7 736.7L1329.4 733.8L1330.1 742.7L1330.8 744.3L1331.5 746.1L1332.2 747.7L1332.9 742.5L1333.6 722.6L1334.3 731.9L1335.0 735.4L1335.7 763.9L1336.4 740.3L1337.1 752.9L1337.8 761.9L1338.5 749.5L1339.2 741.5L1339.9 742.8L1340.6 734.8L1341.3 749.8L1342.0 759.1L1342.7 753.0L1343.4 755.3L1344.1 754.8L1344.8 769.3L1345.5 739.9L1346.2 748.8L1346.9 755.0L1347.6 761.2L1348.3 720.2L1349.0 741.6L1349.7 745.2L1350.4 736.1L1351.1 757.2L1351.8 750.3L1352.5 743.5L1353.2 729.7L1353.9 733.3L1354.6 737.2L1355.3 753.4L1356.0 734.7L1356.7 725.2L1357.4 732.2L1358.1 741.9L1358.8 767.3L1359.5 776.6L1360.2 743.2L1360.9 759.2L1361.6 764.4L1362.3 763.1L1363.0 747.4L1363.7 734.1L1364.4 743.2L1365.1 727.8L1365.8 751.4L1366.5 757.4L1367.2 727.5L1367.9 748.1L1368.6 752.0L1369.3 762.7L1370.0 764.1L1370.7 757.7L1371.4 741.0L1372.1 744.6L1372.8 762.2L1373.5 742.0L1374.2 748.3L1374.9 766.3L1375.6 750.2L1376.3 733.4L1377.0 745.5L1377.7 756.0L1378.4 746.8L1379.1 762.0L1379.8 763.4L1380.5 741.8L1381.2 743.5L1381.9 748.1L1382.6 735.9L1383.3 753.7L1384.0 747.6L1384.7 758.6L1385.4 743.2L1386.1 740.1L1386.8 770.6L1387.5 740.1L1388.2 743.4L1388.9 741.7L1389.6 746.3L1390.3 739.3L1391.0 748.8L1391.7 741.2L1392.4 744.2L1393.1 752.6L1393.8 756.1L1394.5 753.1L1395.2 739.3L1395.9 751.6L1396.6 745.4L1397.3 745.1L1398.0 726.6L1398.7 753.1L1399.4 743.6L1400.1 763.9L1400.8 751.6L1401.5 731.6L1402.2 728.4L1402.9 756.4L1403.6 733.5L1404.3 750.7L1405.0 739.5L1405.7 766.3L1406.4 743.4L1407.1 759.4L1407.8 757.2L1408.5 737.0L1409.2 738.4L1409.9 758.7L1410.6 742.1L1411.3 732.4L1412.0 755.6L1412.7 770.9L1413.4 741.7L1414.1 757.9L1414.8 740.5L1415.5 757.5L1416.2 739.6L1416.9 757.3L1417.6 748.4L1418.3 740.3L1419.0 744.9L1419.7 736.2L1420.4 729.6L1421.1 730.3L1421.8 741.4L1422.5 730.1L1423.2 746.7L1423.9 747.7L1424.6 746.9L1425.3 735.9L1426.0 742.0L1426.7 740.9L1427.4 755.9L1428.1 731.9L1428.8 736.5L1429.5 738.0L1430.2 738.9L1430.9 732.0L1431.6 733.3L1432.3 751.6L1433.0 733.0L1433.7 750.3L1434.4 762.8L1435.1 754.3L1435.8 719.7L1436.5 748.6L1437.2 745.2L1437.9 746.0L1438.6 721.6L1439.3 748.4L1440.0 727.7L1440.7 754.4L1441.4 751.9L1442.1 768.2L1442.8 735.5L1443.5 722.7L1444.2 751.5L1444.9 749.5L1445.6 735.4L1446.3 754.8L1447.0 747.1L1447.7 724.9L1448.4 735.2L1449.1 734.0L1449.8 737.6L1450.5 740.8L1451.2 730.6L1451.9 736.0L1452.6 744.7L1453.3 737.1L1454.0 734.7L1454.7 734.2L1455.4 736.3L1456.1 715.9L1456.8 739.1L1457.5 725.7L1458.2 738.4L1458.9 720.7L1459.6 747.5L1460.3 739.8L1461.0 722.1L1461.7 739.9L1462.4 728.7L1463.1 757.5L1463.8 742.8L1464.5 728.4L1465.2 739.9L1465.9 737.1L1466.6 750.9L1467.3 741.5L1468.0 743.2L1468.7 724.9L1469.4 746.3L1470.1 760.9L1470.8 744.6L1471.5 737.0L1472.2 739.2L1472.9 726.7L1473.6 739.4L1474.3 725.0L1475.0 737.8L1475.7 732.9L1476.4 727.9L1477.1 743.7L1477.8 720.5L1478.5 736.7L1479.2 722.3L1479.9 757.7L1480.6 759.3L1481.3 746.6L1482.0 758.3L1482.7 743.7L1483.4 743.1L1484.1 732.3L1484.8 727.0L1485.5 738.5L1486.2 731.0L1486.9 732.2L1487.6 745.2L1488.3 735.7L1489.0 719.7L1489.7 734.8L1490.4 728.7L1491.1 734.0L1491.8 725.1L1492.5 750.9L1493.2 758.9L1493.9 725.2L1494.6 745.0L1495.3 744.6L1496.0 726.0L1496.7 739.2L1497.4 754.0L1498.1 747.8L1498.8 756.6L1499.5 725.5L1500.2 730.5L1500.9 742.3L1501.6 743.2L1502.3 739.7L1503.0 735.3L1503.7 735.3L1504.4 733.3L1505.1 745.4L1505.8 710.9L1506.5 758.8L1507.2 735.2L1507.9 725.4L1508.6 747.8L1509.3 726.2L1510.0 746.5L1510.7 737.9L1511.4 749.3L1512.1 751.8L1512.8 757.6L1513.5 737.8L1514.2 740.3L1514.9 743.6L1515.6 728.1L1516.3 750.8L1517.0 745.7L1517.7 729.4L1518.4 758.0L1519.1 759.8L1519.8 729.8L1520.5 751.0L1521.2 758.5L1521.9 753.9L1522.6 733.4L1523.3 728.6L1524.0 742.8L1524.7 738.3L1525.4 743.6L1526.1 742.3L1526.8 749.1L1527.5 736.6L1528.2 740.8L1528.9 771.1L1529.6 740.5L1530.3 749.9L1531.0 744.6L1531.7 743.5L1532.4 730.5L1533.1 746.3L1533.8 739.5L1534.5 749.0L1535.2 762.5L1535.9 741.3L1536.6 747.5L1537.3 727.3L1538.0 739.9L1538.7 755.8L1539.4 737.6L1540.1 731.0L1540.8 740.4L1541.5 736.0L1542.2 735.3L1542.9 733.8L1543.6 760.3L1544.3 728.3L1545.0 733.5L1545.7 731.8L1546.4 752.2L1547.1 735.3L1547.8 753.2L1548.5 740.5L1549.2 738.5L1549.9 722.5L1550.6 752.5L1551.3 745.1L1552.0 743.6L1552.7 737.8L1553.4 734.4L1554.1 724.8L1554.8 749.5L1555.5 741.8L1556.2 734.6L1556.9 731.4L1557.6 739.6L1558.3 737.0L1559.0 756.2L1559.7 746.2L1560.4 730.6L1561.1 724.5L1561.8 734.0L1562.5 726.1L1563.2 736.9L1563.9 740.2L1564.6 742.5L1565.3 739.7L1566.0 732.5L1566.7 741.1L1567.4 724.0L1568.1 732.7L1568.8 742.4L1569.5 736.1L1570.2 718.2L1570.9 719.0L1571.6 713.2L1572.3 751.1L1573.0 712.5L1573.7 727.7L1574.4 749.1L1575.1 739.6L1575.8 741.3L1576.5 719.7L1577.2 732.7L1577.9 752.4L1578.6 721.7L1579.3 725.8L1580.0 716.4L1580.7 718.8L1581.4 722.2L1582.1 732.9L1582.8 705.7L1583.5 698.7L1584.2 714.5L1584.9 715.6L1585.6 728.5L1586.3 719.6L1587.0 703.2L1587.7 716.1L1588.4 721.6L1589.1 711.1L1589.8 703.0L1590.5 714.0L1591.2 701.2L1591.9 682.8L1592.6 719.2L1593.3 688.0L1594.0 698.3L1594.7 697.8L1595.4 696.8L1596.1 696.5L1596.8 682.1L1597.5 704.2L1598.2 697.4L1598.9 696.7L1599.6 707.9L1600.3 707.4L1601.0 709.4L1601.7 714.6L1602.4 697.5L1603.1 673.4L1603.8 693.5L1604.5 690.8L1605.2 691.2L1605.9 683.2L1606.6 679.8L1607.3 699.7L1608.0 701.8L1608.7 677.1L1609.4 696.8L1610.1 688.5L1610.8 685.9L1611.5 698.7L1612.2 690.0L1612.9 684.2L1613.6 691.4L1614.3 667.2L1615.0 683.9L1615.7 685.7L1616.4 674.4L1617.1 693.0L1617.8 694.0L1618.5 683.7L1619.2 688.9L1619.9 699.0L1620.6 703.8L1621.3 682.6L1622.0 695.9L1622.7 704.6L1623.4 692.5L1624.1 684.3L1624.8 684.9L1625.5 690.8L1626.2 683.1L1626.9 719.6L1627.6 689.9L1628.3 701.7L1629.0 700.1L1629.7 706.1L1630.4 694.8L1631.1 684.7L1631.8 719.8L1632.5 700.4L1633.2 703.5L1633.9 705.2L1634.6 718.3L1635.3 713.3L1636.0 718.7L1636.7 715.4L1637.4 708.3L1638.1 710.2L1638.8 699.3L1639.5 686.1L1640.2 706.4L1640.9 697.3L1641.6 740.1L1642.3 728.7L1643.0 724.7L1643.7 705.3L1644.4 735.8L1645.1 692.9L1645.8 699.0L1646.5 704.4L1647.2 702.7L1647.9 715.6L1648.6 716.7L1649.3 736.8L1650.0 726.6L1650.7 729.5L1651.4 720.5L1652.1 714.3L1652.8 708.4L1653.5 699.2L1654.2 706.8L1654.9 712.7L1655.6 726.1L1656.3 698.3L1657.0 702.2L1657.7 720.7L1658.4 706.5L1659.1 722.7L1659.8 714.5L1660.5 711.0L1661.2 704.7L1661.9 719.3L1662.6 712.5L1663.3 714.2L1664.0 714.4L1664.7 724.2L1665.4 724.2L1666.1 703.4L1666.8 721.5L1667.5 728.3L1668.2 735.9L1668.9 733.3L1669.6 727.1L1670.3 712.0L1671.0 716.5L1671.7 735.8L1672.4 717.7L1673.1 737.6L1673.8 740.6L1674.5 714.4L1675.2 731.7L1675.9 725.7L1676.6 750.3L1677.3 737.2L1678.0 722.4L1678.7 733.3L1679.4 718.8L1680.1 728.0L1680.8 732.5L1681.5 732.5L1682.2 734.9L1682.9 721.8L1683.6 711.8L1684.3 729.2L1685.0 724.0L1685.7 726.9L1686.4 759.6L1687.1 749.5L1687.8 735.4L1688.5 722.3L1689.2 724.9L1689.9 745.5L1690.6 756.3L1691.3 744.3L1692.0 752.3L1692.7 756.3L1693.4 767.3L1694.1 734.7L1694.8 757.3L1695.5 759.8L1696.2 765.3L1696.9 758.5L1697.6 741.0L1698.3 746.0L1699.0 734.6L1699.7 752.9L1700.4 752.1L1701.1 754.8L1701.8 737.5L1702.5 734.9L1703.2 764.3L1703.9 748.7L1704.6 765.8L1705.3 750.7L1706.0 728.9L1706.7 753.9L1707.4 758.3L1708.1 739.1L1708.8 722.2L1709.5 750.9L1710.2 741.6L1710.9 746.0L1711.6 713.5L1712.3 747.5L1713.0 713.0L1713.7 732.3L1714.4 751.8L1715.1 721.3L1715.8 720.7L1716.5 736.5L1717.2 759.9L1717.9 759.5L1718.6 734.5L1719.3 752.4L1720.0 747.7L1720.7 744.0L1721.4 745.0L1722.1 732.8L1722.8 749.9L1723.5 752.7L1724.2 769.9L1724.9 750.9L1725.6 713.0L1726.3 726.9L1727.0 743.9L1727.7 740.8L1728.4 719.0L1729.1 738.0L1729.8 735.3L1730.5 738.5L1731.2 737.4L1731.9 748.8L1732.6 754.6L1733.3 745.5L1734.0 725.1L1734.7 727.5L1735.4 729.5L1736.1 736.0L1736.8 731.6L1737.5 732.2L1738.2 725.5L1738.9 746.3L1739.6 745.1L1740.3 746.1L1741.0 734.5L1741.7 740.5L1742.4 725.2L1743.1 724.2L1743.8 729.5L1744.5 742.3L1745.2 734.3L1745.9 723.3L1746.6 737.3L1747.3 741.2L1748.0 738.5L1748.7 729.5L1749.4 737.9L1750.1 732.6L1750.8 733.9L1751.5 736.7L1752.2 746.3L1752.9 758.4L1753.6 755.6L1754.3 745.3L1755.0 733.9L1755.7 735.0L1756.4 735.5L1757.1 751.5L1757.8 709.6L1758.5 741.6L1759.2 716.5L1759.9 738.8L1760.6 753.7L1761.3 728.8L1762.0 713.5L1762.7 753.6L1763.4 756.1L1764.1 744.9L1764.8 753.5L1765.5 730.6L1766.2 752.9L1766.9 759.0L1767.6 747.3L1768.3 743.5L1769.0 754.9L1769.7 753.4L1770.4 732.6L1771.1 756.4L1771.8 749.7L1772.5 743.2L1773.2 756.2L1773.9 752.1L1774.6 750.1L1775.3 736.1L1776.0 751.1L1776.7 729.3L1777.4 740.3L1778.1 722.6L1778.8 722.4L1779.5 746.3L1780.2 740.3L1780.9 742.0L1781.6 747.5L1782.3 744.7L1783.0 730.7L1783.7 741.3L1784.4 739.6L1785.1 734.5L1785.8 738.9L1786.5 736.2L1787.2 733.0L1787.9 736.5L1788.6 742.9L1789.3 763.5L1790.0 731.3L1790.7 746.4L1791.4 724.2L1792.1 758.5L1792.8 737.0L1793.5 742.3L1794.2 755.1L1794.9 751.9L1795.6 724.1L1796.3 747.1L1797.0 738.3L1797.7 747.7L1798.4 742.4L1799.1 748.9L1799.8 743.8L1800.5 738.9L1801.2 753.5L1801.9 722.9L1802.6 735.2L1803.3 729.2L1804.0 738.2L1804.7 734.9L1805.4 737.9L1806.1 733.9L1806.8 734.1L1807.5 720.8L1808.2 738.7L1808.9 742.5L1809.6 732.4L1810.3 731.6L1811.0 731.8L1811.7 757.8L1812.4 741.1L1813.1 743.4L1813.8 735.8L1814.5 733.6L1815.2 729.5L1815.9 756.8L1816.6 720.6L1817.3 743.1L1818.0 739.6L1818.7 737.2L1819.4 722.6L1820.1 726.5L1820.8 751.4L1821.5 732.8L1822.2 750.5L1822.9 748.2L1823.6 747.3L1824.3 749.4L1825.0 727.4L1825.7 735.8L1826.4 748.8L1827.1 727.1L1827.8 760.0L1828.5 735.1L1829.2 740.8L1829.9 730.1L1830.6 745.8L1831.3 733.6L1832.0 739.1L1832.7 729.2L1833.4 755.4L1834.1 723.8L1834.8 747.2L1835.5 744.9L1836.2 747.1L1836.9 730.8L1837.6 753.7L1838.3 752.9L1839.0 743.7L1839.7 745.2L1840.4 739.7L1841.1 748.4L1841.8 731.8L1842.5 746.9L1843.2 744.9L1843.9 724.3L1844.6 710.6" fill="none" stroke="#000" stroke-opacity="0.32" stroke-width="3.0" stroke-linejoin="round"/><path d="M166.0 738.7L166.7 744.6L167.4 737.1L168.1 713.9L168.8 743.7L169.5 736.7L170.2 722.4L170.9 737.3L171.6 733.7L172.3 732.2L173.0 728.1L173.7 735.0L174.4 716.9L175.1 724.7L175.8 720.2L176.5 735.2L177.2 727.5L177.9 722.9L178.6 716.2L179.3 723.5L180.0 727.3L180.7 723.4L181.4 745.2L182.1 741.3L182.8 691.5L183.5 701.4L184.2 725.2L184.9 721.9L185.6 730.8L186.3 730.9L187.0 757.3L187.7 712.7L188.4 722.9L189.1 756.5L189.8 737.2L190.5 737.4L191.2 721.1L191.9 705.4L192.6 730.4L193.3 729.4L194.0 710.7L194.7 717.9L195.4 726.0L196.1 713.4L196.8 724.7L197.5 726.8L198.2 725.5L198.9 717.4L199.6 732.2L200.3 735.8L201.0 727.4L201.7 711.0L202.4 732.2L203.1 714.6L203.8 733.5L204.5 706.1L205.2 733.6L205.9 720.4L206.6 703.3L207.3 716.4L208.0 721.6L208.7 724.8L209.4 707.4L210.1 705.8L210.8 724.2L211.5 715.0L212.2 724.9L212.9 732.4L213.6 698.9L214.3 725.6L215.0 739.2L215.7 718.1L216.4 711.0L217.1 732.9L217.8 726.0L218.5 734.9L219.2 717.6L219.9 701.8L220.6 720.9L221.3 716.2L222.0 733.2L222.7 725.0L223.4 699.6L224.1 705.7L224.8 734.9L225.5 732.4L226.2 714.4L226.9 723.9L227.6 730.7L228.3 731.6L229.0 738.0L229.7 730.2L230.4 726.1L231.1 724.6L231.8 743.6L232.5 698.7L233.2 728.7L233.9 731.8L234.6 712.4L235.3 737.2L236.0 724.2L236.7 745.6L237.4 732.3L238.1 743.5L238.8 751.3L239.5 739.8L240.2 722.5L240.9 713.7L241.6 758.7L242.3 733.1L243.0 725.1L243.7 736.5L244.4 731.9L245.1 746.2L245.8 734.9L246.5 734.5L247.2 724.4L247.9 740.6L248.6 719.8L249.3 743.1L250.0 754.8L250.7 712.6L251.4 699.4L252.1 741.8L252.8 768.2L253.5 719.0L254.2 715.3L254.9 740.5L255.6 720.5L256.3 724.9L257.0 726.8L257.7 738.6L258.4 725.3L259.1 734.4L259.8 727.7L260.5 718.1L261.2 724.9L261.9 715.8L262.6 728.7L263.3 712.6L264.0 712.6L264.7 747.7L265.4 726.3L266.1 726.0L266.8 733.6L267.5 720.3L268.2 722.8L268.9 731.7L269.6 729.6L270.3 709.5L271.0 737.2L271.7 717.4L272.4 711.1L273.1 713.5L273.8 720.9L274.5 749.3L275.2 710.8L275.9 729.9L276.6 698.5L277.3 728.7L278.0 741.8L278.7 726.6L279.4 721.8L280.1 734.2L280.8 741.3L281.5 741.3L282.2 759.8L282.9 735.9L283.6 725.3L284.3 732.0L285.0 733.0L285.7 735.7L286.4 733.9L287.1 736.8L287.8 711.5L288.5 745.9L289.2 726.6L289.9 718.4L290.6 743.4L291.3 752.7L292.0 741.4L292.7 736.8L293.4 721.8L294.1 770.4L294.8 746.8L295.5 719.1L296.2 724.1L296.9 736.1L297.6 713.7L298.3 737.5L299.0 729.0L299.7 752.3L300.4 748.9L301.1 700.3L301.8 736.7L302.5 714.2L303.2 751.9L303.9 739.4L304.6 745.0L305.3 723.3L306.0 763.3L306.7 766.4L307.4 724.6L308.1 744.8L308.8 730.9L309.5 740.3L310.2 723.7L310.9 767.1L311.6 728.7L312.3 738.3L313.0 749.6L313.7 734.2L314.4 740.2L315.1 736.0L315.8 742.2L316.5 728.2L317.2 738.5L317.9 741.8L318.6 740.1L319.3 745.4L320.0 740.5L320.7 754.7L321.4 739.7L322.1 742.0L322.8 734.4L323.5 735.9L324.2 725.3L324.9 749.2L325.6 725.9L326.3 730.8L327.0 745.3L327.7 745.2L328.4 733.6L329.1 710.8L329.8 743.5L330.5 740.7L331.2 717.2L331.9 746.5L332.6 725.9L333.3 719.6L334.0 735.9L334.7 731.7L335.4 736.6L336.1 711.4L336.8 757.9L337.5 724.5L338.2 711.3L338.9 740.6L339.6 727.0L340.3 736.0L341.0 726.6L341.7 730.2L342.4 734.2L343.1 720.4L343.8 739.8L344.5 723.8L345.2 718.2L345.9 731.0L346.6 735.9L347.3 726.6L348.0 717.7L348.7 738.0L349.4 705.2L350.1 715.1L350.8 729.7L351.5 710.4L352.2 729.3L352.9 728.1L353.6 741.0L354.3 716.1L355.0 719.9L355.7 732.8L356.4 694.7L357.1 763.4L357.8 718.4L358.5 717.8L359.2 739.3L359.9 727.0L360.6 703.3L361.3 735.7L362.0 738.7L362.7 720.9L363.4 723.1L364.1 733.3L364.8 714.3L365.5 732.3L366.2 728.8L366.9 716.8L367.6 706.8L368.3 721.9L369.0 712.7L369.7 737.2L370.4 725.2L371.1 733.0L371.8 723.7L372.5 724.8L373.2 710.2L373.9 728.7L374.6 742.6L375.3 714.0L376.0 709.2L376.7 713.9L377.4 708.5L378.1 704.4L378.8 714.2L379.5 707.2L380.2 728.5L380.9 708.2L381.6 710.9L382.3 717.4L383.0 699.3L383.7 720.0L384.4 691.1L385.1 686.7L385.8 690.2L386.5 691.2L387.2 672.1L387.9 687.4L388.6 663.6L389.3 700.4L390.0 678.1L390.7 667.5L391.4 660.7L392.1 664.3L392.8 663.3L393.5 649.7L394.2 648.8L394.9 656.2L395.6 649.9L396.3 667.1L397.0 667.7L397.7 650.9L398.4 654.3L399.1 628.0L399.8 650.5L400.5 638.2L401.2 640.9L401.9 650.5L402.6 593.7L403.3 621.0L404.0 597.3L404.7 614.3L405.4 583.6L406.1 589.3L406.8 593.8L407.5 595.1L408.2 584.1L408.9 568.8L409.6 568.4L410.3 584.2L411.0 568.6L411.7 542.5L412.4 573.3L413.1 563.5L413.8 565.1L414.5 542.3L415.2 550.1L415.9 515.8L416.6 531.6L417.3 509.6L418.0 519.8L418.7 520.5L419.4 494.5L420.1 503.3L420.8 503.7L421.5 519.2L422.2 511.8L422.9 484.0L423.6 507.1L424.3 510.8L425.0 529.9L425.7 476.0L426.4 491.9L427.1 518.2L427.8 480.2L428.5 482.4L429.2 506.6L429.9 513.6L430.6 489.9L431.3 506.8L432.0 500.9L432.7 520.5L433.4 499.1L434.1 513.0L434.8 486.4L435.5 496.4L436.2 497.8L436.9 515.4L437.6 507.8L438.3 489.5L439.0 509.9L439.7 511.4L440.4 499.2L441.1 497.2L441.8 497.8L442.5 475.8L443.2 500.9L443.9 499.9L444.6 482.4L445.3 503.0L446.0 471.0L446.7 480.4L447.4 479.4L448.1 511.9L448.8 458.4L449.5 486.2L450.2 488.6L450.9 477.4L451.6 485.6L452.3 450.5L453.0 428.2L453.7 468.3L454.4 436.1L455.1 445.2L455.8 429.2L456.5 457.9L457.2 451.0L457.9 423.3L458.6 442.5L459.3 425.8L460.0 416.5L460.7 413.5L461.4 403.1L462.1 408.1L462.8 395.5L463.5 376.7L464.2 388.0L464.9 352.9L465.6 355.0L466.3 344.2L467.0 347.6L467.7 303.1L468.4 326.4L469.1 288.1L469.8 269.7L470.5 251.4L471.2 263.5L471.9 247.1L472.6 221.1L473.3 214.0L474.0 217.2L474.7 209.2L475.4 233.1L476.1 232.5L476.8 218.6L477.5 205.0L478.2 187.5L478.9 191.8L479.6 202.3L480.3 220.6L481.0 198.0L481.7 176.5L482.4 180.9L483.1 171.3L483.8 165.7L484.5 176.2L485.2 184.2L485.9 214.3L486.6 186.4L487.3 210.9L488.0 220.3L488.7 194.3L489.4 223.1L490.1 211.2L490.8 195.5L491.5 210.7L492.2 210.5L492.9 210.4L493.6 215.6L494.3 226.5L495.0 237.1L495.7 221.7L496.4 244.3L497.1 230.9L497.8 271.3L498.5 285.6L499.2 285.4L499.9 294.0L500.6 305.4L501.3 292.4L502.0 306.6L502.7 325.4L503.4 338.8L504.1 333.5L504.8 371.2L505.5 333.7L506.2 355.9L506.9 367.5L507.6 361.5L508.3 369.8L509.0 377.4L509.7 403.9L510.4 423.1L511.1 414.5L511.8 416.5L512.5 411.6L513.2 429.1L513.9 393.4L514.6 433.5L515.3 436.2L516.0 421.7L516.7 479.2L517.4 432.5L518.1 441.2L518.8 442.8L519.5 479.3L520.2 453.3L520.9 478.2L521.6 479.3L522.3 476.6L523.0 456.0L523.7 467.6L524.4 501.6L525.1 460.7L525.8 468.3L526.5 478.8L527.2 493.3L527.9 486.0L528.6 493.5L529.3 468.3L530.0 497.6L530.7 493.0L531.4 463.0L532.1 508.3L532.8 519.8L533.5 477.6L534.2 490.4L534.9 510.8L535.6 472.0L536.3 466.8L537.0 478.8L537.7 491.3L538.4 493.6L539.1 512.9L539.8 511.2L540.5 493.3L541.2 521.8L541.9 543.3L542.6 537.6L543.3 538.7L544.0 529.7L544.7 547.3L545.4 525.3L546.1 553.2L546.8 546.3L547.5 567.0L548.2 562.1L548.9 545.1L549.6 564.8L550.3 582.7L551.0 554.9L551.7 565.7L552.4 566.0L553.1 559.5L553.8 594.6L554.5 601.8L555.2 597.6L555.9 592.6L556.6 590.9L557.3 596.6L558.0 586.0L558.7 608.8L559.4 612.5L560.1 612.7L560.8 595.5L561.5 605.0L562.2 603.6L562.9 630.4L563.6 611.6L564.3 587.2L565.0 618.1L565.7 638.9L566.4 625.4L567.1 629.7L567.8 620.8L568.5 597.2L569.2 601.1L569.9 610.0L570.6 626.0L571.3 633.3L572.0 640.0L572.7 629.0L573.4 647.2L574.1 633.8L574.8 630.7L575.5 652.4L576.2 632.8L576.9 614.3L577.6 635.8L578.3 652.5L579.0 621.9L579.7 651.8L580.4 654.5L581.1 643.4L581.8 645.0L582.5 659.5L583.2 660.5L583.9 684.2L584.6 675.3L585.3 653.4L586.0 664.0L586.7 684.4L587.4 700.4L588.1 684.0L588.8 684.7L589.5 704.7L590.2 683.9L590.9 682.0L591.6 670.4L592.3 682.4L593.0 715.6L593.7 674.3L594.4 692.4L595.1 676.8L595.8 695.9L596.5 705.8L597.2 693.3L597.9 705.5L598.6 706.0L599.3 703.5L600.0 718.9L600.7 708.5L601.4 696.5L602.1 692.6L602.8 691.3L603.5 707.2L604.2 698.5L604.9 733.0L605.6 724.8L606.3 701.4L607.0 700.6L607.7 724.6L608.4 683.6L609.1 700.7L609.8 717.5L610.5 696.4L611.2 702.0L611.9 703.9L612.6 716.1L613.3 710.6L614.0 714.1L614.7 716.7L615.4 710.6L616.1 723.4L616.8 702.6L617.5 694.8L618.2 691.3L618.9 693.5L619.6 706.3L620.3 724.9L621.0 715.5L621.7 707.1L622.4 702.2L623.1 708.9L623.8 710.9L624.5 709.7L625.2 700.3L625.9 711.9L626.6 729.7L627.3 694.0L628.0 716.9L628.7 696.4L629.4 723.6L630.1 714.1L630.8 699.9L631.5 725.8L632.2 746.4L632.9 728.1L633.6 741.0L634.3 728.1L635.0 705.6L635.7 736.5L636.4 727.1L637.1 716.2L637.8 742.3L638.5 737.3L639.2 728.7L639.9 744.8L640.6 725.6L641.3 742.8L642.0 725.1L642.7 741.8L643.4 723.5L644.1 752.6L644.8 738.8L645.5 752.0L646.2 726.7L646.9 730.6L647.6 745.4L648.3 706.8L649.0 724.0L649.7 747.5L650.4 741.2L651.1 747.0L651.8 732.6L652.5 742.4L653.2 728.0L653.9 720.8L654.6 717.3L655.3 730.2L656.0 730.3L656.7 729.5L657.4 707.6L658.1 714.5L658.8 731.1L659.5 740.4L660.2 730.9L660.9 727.8L661.6 711.9L662.3 760.7L663.0 725.9L663.7 757.3L664.4 756.2L665.1 741.9L665.8 732.7L666.5 740.7L667.2 726.5L667.9 742.5L668.6 739.7L669.3 745.7L670.0 750.5L670.7 759.2L671.4 735.4L672.1 751.4L672.8 730.8L673.5 729.6L674.2 732.5L674.9 728.3L675.6 750.2L676.3 749.4L677.0 753.2L677.7 738.6L678.4 741.8L679.1 732.2L679.8 725.7L680.5 743.5L681.2 741.5L681.9 726.1L682.6 745.0L683.3 718.9L684.0 736.5L684.7 731.5L685.4 732.8L686.1 726.7L686.8 749.7L687.5 745.5L688.2 752.6L688.9 741.1L689.6 725.3L690.3 735.8L691.0 727.0L691.7 745.6L692.4 754.3L693.1 744.7L693.8 734.6L694.5 737.4L695.2 744.1L695.9 725.9L696.6 744.0L697.3 744.8L698.0 736.7L698.7 738.3L699.4 745.1L700.1 734.2L700.8 734.4L701.5 752.6L702.2 746.5L702.9 763.0L703.6 733.3L704.3 724.6L705.0 755.2L705.7 755.6L706.4 736.8L707.1 728.8L707.8 744.9L708.5 725.9L709.2 741.9L709.9 721.5L710.6 743.5L711.3 722.7L712.0 744.0L712.7 763.9L713.4 744.3L714.1 756.2L714.8 740.7L715.5 738.3L716.2 731.9L716.9 760.6L717.6 748.7L718.3 767.8L719.0 736.8L719.7 747.7L720.4 751.4L721.1 766.6L721.8 771.4L722.5 743.9L723.2 738.7L723.9 732.1L724.6 766.6L725.3 750.8L726.0 744.6L726.7 751.3L727.4 723.4L728.1 732.6L728.8 762.5L729.5 756.4L730.2 753.7L730.9 740.7L731.6 758.5L732.3 771.7L733.0 738.0L733.7 751.7L734.4 746.5L735.1 755.2L735.8 751.1L736.5 749.0L737.2 740.5L737.9 749.9L738.6 742.8L739.3 747.7L740.0 748.1L740.7 755.4L741.4 740.7L742.1 742.7L742.8 757.3L743.5 741.8L744.2 740.2L744.9 751.7L745.6 744.0L746.3 740.8L747.0 741.2L747.7 723.9L748.4 742.0L749.1 750.9L749.8 741.8L750.5 717.3L751.2 737.5L751.9 723.8L752.6 731.3L753.3 735.4L754.0 720.6L754.7 749.2L755.4 733.7L756.1 743.6L756.8 742.1L757.5 750.4L758.2 749.1L758.9 719.6L759.6 737.0L760.3 713.1L761.0 732.4L761.7 745.9L762.4 748.5L763.1 753.2L763.8 734.9L764.5 743.2L765.2 741.1L765.9 754.6L766.6 758.6L767.3 737.1L768.0 771.0L768.7 741.9L769.4 738.3L770.1 749.7L770.8 752.0L771.5 750.1L772.2 737.3L772.9 761.6L773.6 746.3L774.3 763.5L775.0 762.4L775.7 733.1L776.4 736.9L777.1 737.1L777.8 751.6L778.5 749.8L779.2 752.6L779.9 740.8L780.6 754.9L781.3 766.0L782.0 735.4L782.7 748.1L783.4 753.0L784.1 748.7L784.8 747.7L785.5 769.5L786.2 763.8L786.9 758.6L787.6 740.1L788.3 773.4L789.0 751.9L789.7 740.9L790.4 743.1L791.1 741.0L791.8 769.8L792.5 747.9L793.2 745.9L793.9 720.8L794.6 752.8L795.3 732.5L796.0 731.5L796.7 751.0L797.4 734.4L798.1 753.4L798.8 756.6L799.5 724.0L800.2 742.6L800.9 726.5L801.6 743.4L802.3 754.4L803.0 728.9L803.7 764.4L804.4 740.8L805.1 731.0L805.8 742.9L806.5 753.2L807.2 728.9L807.9 744.4L808.6 729.0L809.3 757.9L810.0 746.1L810.7 739.6L811.4 756.0L812.1 729.9L812.8 739.9L813.5 764.9L814.2 742.8L814.9 759.4L815.6 746.3L816.3 736.3L817.0 741.4L817.7 745.0L818.4 739.6L819.1 734.9L819.8 735.5L820.5 727.7L821.2 745.6L821.9 748.8L822.6 752.9L823.3 724.4L824.0 753.8L824.7 744.7L825.4 729.1L826.1 746.3L826.8 754.5L827.5 751.4L828.2 753.9L828.9 756.6L829.6 756.2L830.3 746.0L831.0 723.3L831.7 738.3L832.4 751.0L833.1 742.0L833.8 755.2L834.5 756.7L835.2 748.5L835.9 769.3L836.6 737.5L837.3 759.0L838.0 743.4L838.7 740.0L839.4 755.4L840.1 741.9L840.8 758.4L841.5 735.6L842.2 748.9L842.9 739.0L843.6 745.6L844.3 743.9L845.0 735.2L845.7 754.9L846.4 733.4L847.1 736.0L847.8 756.7L848.5 757.2L849.2 753.3L849.9 749.2L850.6 770.4L851.3 730.8L852.0 735.4L852.7 732.0L853.4 752.6L854.1 745.2L854.8 753.8L855.5 751.7L856.2 737.7L856.9 730.5L857.6 728.0L858.3 763.4L859.0 749.0L859.7 744.3L860.4 733.4L861.1 734.6L861.8 732.6L862.5 732.5L863.2 708.9L863.9 734.9L864.6 731.1L865.3 738.4L866.0 737.3L866.7 744.3L867.4 734.4L868.1 743.3L868.8 705.4L869.5 721.6L870.2 753.2L870.9 720.0L871.6 730.4L872.3 741.4L873.0 723.4L873.7 741.4L874.4 717.1L875.1 711.6L875.8 718.1L876.5 714.5L877.2 732.9L877.9 729.5L878.6 736.8L879.3 721.4L880.0 761.7L880.7 732.0L881.4 732.6L882.1 738.2L882.8 730.3L883.5 725.9L884.2 733.9L884.9 743.1L885.6 740.2L886.3 743.2L887.0 726.1L887.7 723.5L888.4 754.7L889.1 729.2L889.8 737.1L890.5 739.9L891.2 747.4L891.9 716.0L892.6 725.7L893.3 726.1L894.0 727.4L894.7 703.5L895.4 729.6L896.1 701.4L896.8 734.0L897.5 736.6L898.2 737.3L898.9 717.1L899.6 741.6L900.3 721.2L901.0 717.4L901.7 720.4L902.4 722.2L903.1 734.1L903.8 741.7L904.5 709.2L905.2 727.1L905.9 743.6L906.6 736.2L907.3 739.9L908.0 717.7L908.7 745.6L909.4 717.7L910.1 737.7L910.8 751.0L911.5 757.1L912.2 742.0L912.9 746.3L913.6 729.8L914.3 731.2L915.0 749.8L915.7 736.7L916.4 735.2L917.1 720.8L917.8 738.3L918.5 743.8L919.2 727.6L919.9 730.8L920.6 754.1L921.3 738.3L922.0 733.0L922.7 723.4L923.4 729.1L924.1 733.1L924.8 751.2L925.5 728.9L926.2 755.7L926.9 725.1L927.6 731.3L928.3 744.7L929.0 732.4L929.7 725.6L930.4 733.4L931.1 739.8L931.8 715.3L932.5 731.6L933.2 733.1L933.9 729.6L934.6 742.2L935.3 727.3L936.0 729.3L936.7 733.6L937.4 741.1L938.1 730.1L938.8 749.4L939.5 721.8L940.2 746.3L940.9 721.8L941.6 729.4L942.3 735.1L943.0 753.9L943.7 740.6L944.4 725.8L945.1 744.8L945.8 727.6L946.5 721.0L947.2 734.9L947.9 730.9L948.6 740.6L949.3 723.7L950.0 734.3L950.7 737.3L951.4 733.4L952.1 730.1L952.8 722.7L953.5 741.0L954.2 732.5L954.9 736.8L955.6 727.5L956.3 731.8L957.0 720.2L957.7 733.1L958.4 741.0L959.1 733.6L959.8 742.4L960.5 736.4L961.2 748.4L961.9 731.0L962.6 714.9L963.3 738.3L964.0 731.6L964.7 722.6L965.4 741.0L966.1 736.7L966.8 738.9L967.5 730.3L968.2 736.5L968.9 737.3L969.6 754.6L970.3 727.3L971.0 735.1L971.7 739.5L972.4 716.4L973.1 718.0L973.8 760.5L974.5 716.6L975.2 743.1L975.9 727.3L976.6 728.4L977.3 714.9L978.0 727.1L978.7 746.0L979.4 721.7L980.1 743.9L980.8 740.7L981.5 759.7L982.2 731.7L982.9 751.1L983.6 746.8L984.3 733.5L985.0 717.9L985.7 753.3L986.4 721.0L987.1 730.8L987.8 745.9L988.5 748.4L989.2 726.3L989.9 735.2L990.6 732.6L991.3 748.6L992.0 763.3L992.7 714.7L993.4 745.4L994.1 706.0L994.8 735.2L995.5 722.7L996.2 757.4L996.9 737.0L997.6 727.0L998.3 729.7L999.0 729.0L999.7 737.7L1000.4 733.9L1001.1 743.1L1001.8 753.1L1002.5 743.8L1003.2 722.3L1003.9 717.9L1004.6 727.7L1005.3 748.0L1006.0 732.5L1006.7 728.8L1007.4 737.9L1008.1 720.5L1008.8 723.7L1009.5 742.2L1010.2 733.1L1010.9 731.4L1011.6 740.1L1012.3 730.0L1013.0 728.9L1013.7 731.4L1014.4 743.3L1015.1 737.3L1015.8 723.3L1016.5 733.3L1017.2 744.0L1017.9 757.8L1018.6 724.1L1019.3 740.9L1020.0 734.3L1020.7 746.6L1021.4 742.6L1022.1 754.3L1022.8 743.8L1023.5 732.1L1024.2 732.4L1024.9 743.2L1025.6 743.3L1026.3 766.0L1027.0 758.2L1027.7 726.5L1028.4 743.9L1029.1 725.3L1029.8 722.0L1030.5 749.1L1031.2 747.3L1031.9 729.8L1032.6 760.1L1033.3 731.0L1034.0 729.2L1034.7 750.0L1035.4 745.5L1036.1 741.7L1036.8 743.1L1037.5 746.8L1038.2 743.2L1038.9 743.3L1039.6 724.4L1040.3 731.0L1041.0 753.3L1041.7 738.9L1042.4 753.3L1043.1 761.3L1043.8 743.8L1044.5 751.2L1045.2 771.5L1045.9 756.2L1046.6 769.2L1047.3 765.8L1048.0 757.1L1048.7 747.5L1049.4 739.2L1050.1 736.1L1050.8 753.9L1051.5 753.6L1052.2 746.3L1052.9 757.6L1053.6 741.1L1054.3 760.2L1055.0 748.0L1055.7 746.9L1056.4 747.1L1057.1 745.8L1057.8 774.6L1058.5 728.5L1059.2 748.3L1059.9 760.1L1060.6 753.9L1061.3 742.3L1062.0 765.0L1062.7 733.4L1063.4 730.5L1064.1 751.3L1064.8 728.5L1065.5 718.0L1066.2 754.4L1066.9 752.9L1067.6 752.5L1068.3 738.7L1069.0 746.1L1069.7 733.1L1070.4 763.2L1071.1 752.5L1071.8 751.8L1072.5 721.5L1073.2 752.3L1073.9 759.9L1074.6 756.6L1075.3 751.7L1076.0 742.7L1076.7 738.8L1077.4 749.3L1078.1 746.7L1078.8 745.0L1079.5 738.8L1080.2 761.0L1080.9 729.0L1081.6 741.7L1082.3 735.4L1083.0 753.4L1083.7 757.9L1084.4 755.7L1085.1 750.2L1085.8 726.0L1086.5 765.0L1087.2 747.5L1087.9 740.5L1088.6 742.0L1089.3 737.9L1090.0 746.5L1090.7 745.3L1091.4 737.8L1092.1 713.1L1092.8 741.6L1093.5 747.4L1094.2 748.0L1094.9 740.5L1095.6 747.4L1096.3 754.0L1097.0 737.3L1097.7 759.2L1098.4 721.0L1099.1 728.9L1099.8 733.0L1100.5 716.0L1101.2 732.5L1101.9 758.0L1102.6 758.3L1103.3 746.0L1104.0 764.6L1104.7 748.4L1105.4 740.5L1106.1 749.0L1106.8 744.9L1107.5 754.8L1108.2 729.7L1108.9 757.8L1109.6 741.5L1110.3 756.3L1111.0 729.5L1111.7 742.1L1112.4 747.7L1113.1 756.9L1113.8 733.2L1114.5 765.5L1115.2 752.3L1115.9 741.0L1116.6 760.5L1117.3 748.0L1118.0 759.9L1118.7 772.9L1119.4 755.5L1120.1 741.0L1120.8 742.2L1121.5 753.5L1122.2 750.2L1122.9 737.6L1123.6 739.5L1124.3 754.4L1125.0 773.3L1125.7 717.8L1126.4 754.9L1127.1 744.2L1127.8 754.9L1128.5 755.5L1129.2 745.9L1129.9 733.3L1130.6 728.4L1131.3 722.4L1132.0 756.4L1132.7 739.7L1133.4 735.2L1134.1 737.4L1134.8 724.8L1135.5 742.6L1136.2 753.3L1136.9 750.6L1137.6 719.8L1138.3 752.1L1139.0 727.8L1139.7 714.6L1140.4 722.0L1141.1 724.8L1141.8 735.5L1142.5 724.1L1143.2 718.8L1143.9 732.9L1144.6 757.6L1145.3 728.5L1146.0 741.8L1146.7 737.8L1147.4 766.4L1148.1 716.4L1148.8 750.3L1149.5 724.0L1150.2 732.1L1150.9 738.1L1151.6 768.6L1152.3 731.3L1153.0 719.1L1153.7 755.1L1154.4 731.5L1155.1 738.5L1155.8 741.2L1156.5 742.8L1157.2 740.0L1157.9 745.2L1158.6 746.7L1159.3 752.1L1160.0 737.9L1160.7 734.4L1161.4 731.0L1162.1 749.7L1162.8 742.8L1163.5 749.7L1164.2 749.7L1164.9 762.7L1165.6 746.3L1166.3 752.6L1167.0 730.9L1167.7 732.4L1168.4 741.2L1169.1 731.1L1169.8 752.6L1170.5 730.0L1171.2 745.7L1171.9 717.4L1172.6 732.5L1173.3 741.0L1174.0 741.8L1174.7 724.5L1175.4 745.6L1176.1 755.1L1176.8 751.3L1177.5 736.4L1178.2 736.9L1178.9 729.9L1179.6 750.0L1180.3 758.8L1181.0 736.4L1181.7 723.0L1182.4 743.9L1183.1 749.2L1183.8 711.9L1184.5 742.2L1185.2 764.6L1185.9 749.2L1186.6 745.9L1187.3 744.0L1188.0 751.1L1188.7 728.4L1189.4 729.3L1190.1 743.1L1190.8 730.7L1191.5 741.1L1192.2 716.7L1192.9 746.5L1193.6 747.4L1194.3 738.4L1195.0 739.7L1195.7 755.9L1196.4 725.6L1197.1 727.5L1197.8 725.4L1198.5 732.9L1199.2 726.3L1199.9 738.0L1200.6 730.2L1201.3 721.2L1202.0 720.0L1202.7 750.8L1203.4 736.3L1204.1 734.3L1204.8 737.0L1205.5 735.6L1206.2 744.7L1206.9 742.3L1207.6 729.1L1208.3 726.2L1209.0 722.9L1209.7 720.7L1210.4 750.3L1211.1 723.9L1211.8 711.1L1212.5 724.1L1213.2 724.4L1213.9 736.7L1214.6 722.7L1215.3 738.4L1216.0 736.4L1216.7 746.0L1217.4 755.9L1218.1 760.5L1218.8 746.0L1219.5 717.3L1220.2 725.4L1220.9 732.4L1221.6 752.6L1222.3 736.4L1223.0 741.8L1223.7 725.7L1224.4 733.8L1225.1 734.7L1225.8 720.8L1226.5 734.2L1227.2 736.9L1227.9 722.2L1228.6 734.9L1229.3 741.3L1230.0 722.4L1230.7 720.6L1231.4 715.9L1232.1 711.0L1232.8 718.4L1233.5 710.4L1234.2 710.0L1234.9 703.0L1235.6 692.5L1236.3 697.7L1237.0 710.6L1237.7 691.4L1238.4 695.8L1239.1 720.5L1239.8 712.4L1240.5 688.9L1241.2 701.8L1241.9 684.6L1242.6 709.0L1243.3 680.5L1244.0 686.0L1244.7 699.3L1245.4 670.9L1246.1 694.4L1246.8 667.3L1247.5 678.1L1248.2 670.0L1248.9 670.9L1249.6 672.2L1250.3 667.8L1251.0 654.9L1251.7 676.3L1252.4 673.1L1253.1 678.7L1253.8 678.6L1254.5 644.2L1255.2 675.1L1255.9 674.1L1256.6 650.5L1257.3 668.4L1258.0 672.4L1258.7 646.5L1259.4 635.0L1260.1 646.4L1260.8 681.7L1261.5 651.7L1262.2 633.1L1262.9 644.3L1263.6 634.8L1264.3 642.1L1265.0 648.4L1265.7 616.1L1266.4 652.9L1267.1 666.8L1267.8 648.0L1268.5 646.9L1269.2 666.3L1269.9 638.6L1270.6 640.2L1271.3 639.6L1272.0 655.7L1272.7 663.4L1273.4 658.4L1274.1 667.1L1274.8 671.3L1275.5 668.1L1276.2 653.0L1276.9 660.4L1277.6 679.6L1278.3 652.6L1279.0 663.1L1279.7 662.0L1280.4 665.9L1281.1 656.1L1281.8 654.0L1282.5 702.4L1283.2 684.5L1283.9 666.1L1284.6 675.6L1285.3 686.1L1286.0 675.7L1286.7 688.9L1287.4 675.9L1288.1 680.7L1288.8 685.6L1289.5 682.7L1290.2 660.6L1290.9 691.2L1291.6 695.4L1292.3 699.2L1293.0 683.2L1293.7 700.2L1294.4 700.0L1295.1 678.0L1295.8 674.2L1296.5 706.7L1297.2 691.2L1297.9 715.2L1298.6 729.6L1299.3 699.1L1300.0 699.0L1300.7 708.0L1301.4 717.1L1302.1 697.2L1302.8 725.7L1303.5 723.8L1304.2 720.9L1304.9 707.9L1305.6 725.5L1306.3 725.6L1307.0 702.6L1307.7 741.0L1308.4 714.1L1309.1 722.3L1309.8 712.6L1310.5 723.5L1311.2 732.8L1311.9 710.9L1312.6 701.7L1313.3 716.1L1314.0 706.9L1314.7 713.9L1315.4 721.8L1316.1 723.4L1316.8 739.7L1317.5 714.6L1318.2 731.3L1318.9 722.8L1319.6 745.2L1320.3 759.6L1321.0 735.8L1321.7 752.4L1322.4 728.8L1323.1 717.9L1323.8 722.6L1324.5 720.0L1325.2 727.8L1325.9 736.4L1326.6 752.6L1327.3 748.2L1328.0 746.1L1328.7 736.7L1329.4 733.8L1330.1 742.7L1330.8 744.3L1331.5 746.1L1332.2 747.7L1332.9 742.5L1333.6 722.6L1334.3 731.9L1335.0 735.4L1335.7 763.9L1336.4 740.3L1337.1 752.9L1337.8 761.9L1338.5 749.5L1339.2 741.5L1339.9 742.8L1340.6 734.8L1341.3 749.8L1342.0 759.1L1342.7 753.0L1343.4 755.3L1344.1 754.8L1344.8 769.3L1345.5 739.9L1346.2 748.8L1346.9 755.0L1347.6 761.2L1348.3 720.2L1349.0 741.6L1349.7 745.2L1350.4 736.1L1351.1 757.2L1351.8 750.3L1352.5 743.5L1353.2 729.7L1353.9 733.3L1354.6 737.2L1355.3 753.4L1356.0 734.7L1356.7 725.2L1357.4 732.2L1358.1 741.9L1358.8 767.3L1359.5 776.6L1360.2 743.2L1360.9 759.2L1361.6 764.4L1362.3 763.1L1363.0 747.4L1363.7 734.1L1364.4 743.2L1365.1 727.8L1365.8 751.4L1366.5 757.4L1367.2 727.5L1367.9 748.1L1368.6 752.0L1369.3 762.7L1370.0 764.1L1370.7 757.7L1371.4 741.0L1372.1 744.6L1372.8 762.2L1373.5 742.0L1374.2 748.3L1374.9 766.3L1375.6 750.2L1376.3 733.4L1377.0 745.5L1377.7 756.0L1378.4 746.8L1379.1 762.0L1379.8 763.4L1380.5 741.8L1381.2 743.5L1381.9 748.1L1382.6 735.9L1383.3 753.7L1384.0 747.6L1384.7 758.6L1385.4 743.2L1386.1 740.1L1386.8 770.6L1387.5 740.1L1388.2 743.4L1388.9 741.7L1389.6 746.3L1390.3 739.3L1391.0 748.8L1391.7 741.2L1392.4 744.2L1393.1 752.6L1393.8 756.1L1394.5 753.1L1395.2 739.3L1395.9 751.6L1396.6 745.4L1397.3 745.1L1398.0 726.6L1398.7 753.1L1399.4 743.6L1400.1 763.9L1400.8 751.6L1401.5 731.6L1402.2 728.4L1402.9 756.4L1403.6 733.5L1404.3 750.7L1405.0 739.5L1405.7 766.3L1406.4 743.4L1407.1 759.4L1407.8 757.2L1408.5 737.0L1409.2 738.4L1409.9 758.7L1410.6 742.1L1411.3 732.4L1412.0 755.6L1412.7 770.9L1413.4 741.7L1414.1 757.9L1414.8 740.5L1415.5 757.5L1416.2 739.6L1416.9 757.3L1417.6 748.4L1418.3 740.3L1419.0 744.9L1419.7 736.2L1420.4 729.6L1421.1 730.3L1421.8 741.4L1422.5 730.1L1423.2 746.7L1423.9 747.7L1424.6 746.9L1425.3 735.9L1426.0 742.0L1426.7 740.9L1427.4 755.9L1428.1 731.9L1428.8 736.5L1429.5 738.0L1430.2 738.9L1430.9 732.0L1431.6 733.3L1432.3 751.6L1433.0 733.0L1433.7 750.3L1434.4 762.8L1435.1 754.3L1435.8 719.7L1436.5 748.6L1437.2 745.2L1437.9 746.0L1438.6 721.6L1439.3 748.4L1440.0 727.7L1440.7 754.4L1441.4 751.9L1442.1 768.2L1442.8 735.5L1443.5 722.7L1444.2 751.5L1444.9 749.5L1445.6 735.4L1446.3 754.8L1447.0 747.1L1447.7 724.9L1448.4 735.2L1449.1 734.0L1449.8 737.6L1450.5 740.8L1451.2 730.6L1451.9 736.0L1452.6 744.7L1453.3 737.1L1454.0 734.7L1454.7 734.2L1455.4 736.3L1456.1 715.9L1456.8 739.1L1457.5 725.7L1458.2 738.4L1458.9 720.7L1459.6 747.5L1460.3 739.8L1461.0 722.1L1461.7 739.9L1462.4 728.7L1463.1 757.5L1463.8 742.8L1464.5 728.4L1465.2 739.9L1465.9 737.1L1466.6 750.9L1467.3 741.5L1468.0 743.2L1468.7 724.9L1469.4 746.3L1470.1 760.9L1470.8 744.6L1471.5 737.0L1472.2 739.2L1472.9 726.7L1473.6 739.4L1474.3 725.0L1475.0 737.8L1475.7 732.9L1476.4 727.9L1477.1 743.7L1477.8 720.5L1478.5 736.7L1479.2 722.3L1479.9 757.7L1480.6 759.3L1481.3 746.6L1482.0 758.3L1482.7 743.7L1483.4 743.1L1484.1 732.3L1484.8 727.0L1485.5 738.5L1486.2 731.0L1486.9 732.2L1487.6 745.2L1488.3 735.7L1489.0 719.7L1489.7 734.8L1490.4 728.7L1491.1 734.0L1491.8 725.1L1492.5 750.9L1493.2 758.9L1493.9 725.2L1494.6 745.0L1495.3 744.6L1496.0 726.0L1496.7 739.2L1497.4 754.0L1498.1 747.8L1498.8 756.6L1499.5 725.5L1500.2 730.5L1500.9 742.3L1501.6 743.2L1502.3 739.7L1503.0 735.3L1503.7 735.3L1504.4 733.3L1505.1 745.4L1505.8 710.9L1506.5 758.8L1507.2 735.2L1507.9 725.4L1508.6 747.8L1509.3 726.2L1510.0 746.5L1510.7 737.9L1511.4 749.3L1512.1 751.8L1512.8 757.6L1513.5 737.8L1514.2 740.3L1514.9 743.6L1515.6 728.1L1516.3 750.8L1517.0 745.7L1517.7 729.4L1518.4 758.0L1519.1 759.8L1519.8 729.8L1520.5 751.0L1521.2 758.5L1521.9 753.9L1522.6 733.4L1523.3 728.6L1524.0 742.8L1524.7 738.3L1525.4 743.6L1526.1 742.3L1526.8 749.1L1527.5 736.6L1528.2 740.8L1528.9 771.1L1529.6 740.5L1530.3 749.9L1531.0 744.6L1531.7 743.5L1532.4 730.5L1533.1 746.3L1533.8 739.5L1534.5 749.0L1535.2 762.5L1535.9 741.3L1536.6 747.5L1537.3 727.3L1538.0 739.9L1538.7 755.8L1539.4 737.6L1540.1 731.0L1540.8 740.4L1541.5 736.0L1542.2 735.3L1542.9 733.8L1543.6 760.3L1544.3 728.3L1545.0 733.5L1545.7 731.8L1546.4 752.2L1547.1 735.3L1547.8 753.2L1548.5 740.5L1549.2 738.5L1549.9 722.5L1550.6 752.5L1551.3 745.1L1552.0 743.6L1552.7 737.8L1553.4 734.4L1554.1 724.8L1554.8 749.5L1555.5 741.8L1556.2 734.6L1556.9 731.4L1557.6 739.6L1558.3 737.0L1559.0 756.2L1559.7 746.2L1560.4 730.6L1561.1 724.5L1561.8 734.0L1562.5 726.1L1563.2 736.9L1563.9 740.2L1564.6 742.5L1565.3 739.7L1566.0 732.5L1566.7 741.1L1567.4 724.0L1568.1 732.7L1568.8 742.4L1569.5 736.1L1570.2 718.2L1570.9 719.0L1571.6 713.2L1572.3 751.1L1573.0 712.5L1573.7 727.7L1574.4 749.1L1575.1 739.6L1575.8 741.3L1576.5 719.7L1577.2 732.7L1577.9 752.4L1578.6 721.7L1579.3 725.8L1580.0 716.4L1580.7 718.8L1581.4 722.2L1582.1 732.9L1582.8 705.7L1583.5 698.7L1584.2 714.5L1584.9 715.6L1585.6 728.5L1586.3 719.6L1587.0 703.2L1587.7 716.1L1588.4 721.6L1589.1 711.1L1589.8 703.0L1590.5 714.0L1591.2 701.2L1591.9 682.8L1592.6 719.2L1593.3 688.0L1594.0 698.3L1594.7 697.8L1595.4 696.8L1596.1 696.5L1596.8 682.1L1597.5 704.2L1598.2 697.4L1598.9 696.7L1599.6 707.9L1600.3 707.4L1601.0 709.4L1601.7 714.6L1602.4 697.5L1603.1 673.4L1603.8 693.5L1604.5 690.8L1605.2 691.2L1605.9 683.2L1606.6 679.8L1607.3 699.7L1608.0 701.8L1608.7 677.1L1609.4 696.8L1610.1 688.5L1610.8 685.9L1611.5 698.7L1612.2 690.0L1612.9 684.2L1613.6 691.4L1614.3 667.2L1615.0 683.9L1615.7 685.7L1616.4 674.4L1617.1 693.0L1617.8 694.0L1618.5 683.7L1619.2 688.9L1619.9 699.0L1620.6 703.8L1621.3 682.6L1622.0 695.9L1622.7 704.6L1623.4 692.5L1624.1 684.3L1624.8 684.9L1625.5 690.8L1626.2 683.1L1626.9 719.6L1627.6 689.9L1628.3 701.7L1629.0 700.1L1629.7 706.1L1630.4 694.8L1631.1 684.7L1631.8 719.8L1632.5 700.4L1633.2 703.5L1633.9 705.2L1634.6 718.3L1635.3 713.3L1636.0 718.7L1636.7 715.4L1637.4 708.3L1638.1 710.2L1638.8 699.3L1639.5 686.1L1640.2 706.4L1640.9 697.3L1641.6 740.1L1642.3 728.7L1643.0 724.7L1643.7 705.3L1644.4 735.8L1645.1 692.9L1645.8 699.0L1646.5 704.4L1647.2 702.7L1647.9 715.6L1648.6 716.7L1649.3 736.8L1650.0 726.6L1650.7 729.5L1651.4 720.5L1652.1 714.3L1652.8 708.4L1653.5 699.2L1654.2 706.8L1654.9 712.7L1655.6 726.1L1656.3 698.3L1657.0 702.2L1657.7 720.7L1658.4 706.5L1659.1 722.7L1659.8 714.5L1660.5 711.0L1661.2 704.7L1661.9 719.3L1662.6 712.5L1663.3 714.2L1664.0 714.4L1664.7 724.2L1665.4 724.2L1666.1 703.4L1666.8 721.5L1667.5 728.3L1668.2 735.9L1668.9 733.3L1669.6 727.1L1670.3 712.0L1671.0 716.5L1671.7 735.8L1672.4 717.7L1673.1 737.6L1673.8 740.6L1674.5 714.4L1675.2 731.7L1675.9 725.7L1676.6 750.3L1677.3 737.2L1678.0 722.4L1678.7 733.3L1679.4 718.8L1680.1 728.0L1680.8 732.5L1681.5 732.5L1682.2 734.9L1682.9 721.8L1683.6 711.8L1684.3 729.2L1685.0 724.0L1685.7 726.9L1686.4 759.6L1687.1 749.5L1687.8 735.4L1688.5 722.3L1689.2 724.9L1689.9 745.5L1690.6 756.3L1691.3 744.3L1692.0 752.3L1692.7 756.3L1693.4 767.3L1694.1 734.7L1694.8 757.3L1695.5 759.8L1696.2 765.3L1696.9 758.5L1697.6 741.0L1698.3 746.0L1699.0 734.6L1699.7 752.9L1700.4 752.1L1701.1 754.8L1701.8 737.5L1702.5 734.9L1703.2 764.3L1703.9 748.7L1704.6 765.8L1705.3 750.7L1706.0 728.9L1706.7 753.9L1707.4 758.3L1708.1 739.1L1708.8 722.2L1709.5 750.9L1710.2 741.6L1710.9 746.0L1711.6 713.5L1712.3 747.5L1713.0 713.0L1713.7 732.3L1714.4 751.8L1715.1 721.3L1715.8 720.7L1716.5 736.5L1717.2 759.9L1717.9 759.5L1718.6 734.5L1719.3 752.4L1720.0 747.7L1720.7 744.0L1721.4 745.0L1722.1 732.8L1722.8 749.9L1723.5 752.7L1724.2 769.9L1724.9 750.9L1725.6 713.0L1726.3 726.9L1727.0 743.9L1727.7 740.8L1728.4 719.0L1729.1 738.0L1729.8 735.3L1730.5 738.5L1731.2 737.4L1731.9 748.8L1732.6 754.6L1733.3 745.5L1734.0 725.1L1734.7 727.5L1735.4 729.5L1736.1 736.0L1736.8 731.6L1737.5 732.2L1738.2 725.5L1738.9 746.3L1739.6 745.1L1740.3 746.1L1741.0 734.5L1741.7 740.5L1742.4 725.2L1743.1 724.2L1743.8 729.5L1744.5 742.3L1745.2 734.3L1745.9 723.3L1746.6 737.3L1747.3 741.2L1748.0 738.5L1748.7 729.5L1749.4 737.9L1750.1 732.6L1750.8 733.9L1751.5 736.7L1752.2 746.3L1752.9 758.4L1753.6 755.6L1754.3 745.3L1755.0 733.9L1755.7 735.0L1756.4 735.5L1757.1 751.5L1757.8 709.6L1758.5 741.6L1759.2 716.5L1759.9 738.8L1760.6 753.7L1761.3 728.8L1762.0 713.5L1762.7 753.6L1763.4 756.1L1764.1 744.9L1764.8 753.5L1765.5 730.6L1766.2 752.9L1766.9 759.0L1767.6 747.3L1768.3 743.5L1769.0 754.9L1769.7 753.4L1770.4 732.6L1771.1 756.4L1771.8 749.7L1772.5 743.2L1773.2 756.2L1773.9 752.1L1774.6 750.1L1775.3 736.1L1776.0 751.1L1776.7 729.3L1777.4 740.3L1778.1 722.6L1778.8 722.4L1779.5 746.3L1780.2 740.3L1780.9 742.0L1781.6 747.5L1782.3 744.7L1783.0 730.7L1783.7 741.3L1784.4 739.6L1785.1 734.5L1785.8 738.9L1786.5 736.2L1787.2 733.0L1787.9 736.5L1788.6 742.9L1789.3 763.5L1790.0 731.3L1790.7 746.4L1791.4 724.2L1792.1 758.5L1792.8 737.0L1793.5 742.3L1794.2 755.1L1794.9 751.9L1795.6 724.1L1796.3 747.1L1797.0 738.3L1797.7 747.7L1798.4 742.4L1799.1 748.9L1799.8 743.8L1800.5 738.9L1801.2 753.5L1801.9 722.9L1802.6 735.2L1803.3 729.2L1804.0 738.2L1804.7 734.9L1805.4 737.9L1806.1 733.9L1806.8 734.1L1807.5 720.8L1808.2 738.7L1808.9 742.5L1809.6 732.4L1810.3 731.6L1811.0 731.8L1811.7 757.8L1812.4 741.1L1813.1 743.4L1813.8 735.8L1814.5 733.6L1815.2 729.5L1815.9 756.8L1816.6 720.6L1817.3 743.1L1818.0 739.6L1818.7 737.2L1819.4 722.6L1820.1 726.5L1820.8 751.4L1821.5 732.8L1822.2 750.5L1822.9 748.2L1823.6 747.3L1824.3 749.4L1825.0 727.4L1825.7 735.8L1826.4 748.8L1827.1 727.1L1827.8 760.0L1828.5 735.1L1829.2 740.8L1829.9 730.1L1830.6 745.8L1831.3 733.6L1832.0 739.1L1832.7 729.2L1833.4 755.4L1834.1 723.8L1834.8 747.2L1835.5 744.9L1836.2 747.1L1836.9 730.8L1837.6 753.7L1838.3 752.9L1839.0 743.7L1839.7 745.2L1840.4 739.7L1841.1 748.4L1841.8 731.8L1842.5 746.9L1843.2 744.9L1843.9 724.3L1844.6 710.6" fill="none" stroke="#000" stroke-width="1.3" stroke-linejoin="round"/>
<path d="M166.0 1167.8L166.8 1165.0L167.7 1165.8L168.5 1156.9L169.4 1176.3L170.2 1173.5L171.0 1167.0L171.9 1172.0L172.7 1169.8L173.6 1165.9L174.4 1172.7L175.2 1166.7L176.1 1166.5L176.9 1164.2L177.8 1169.7L178.6 1167.1L179.4 1169.9L180.3 1164.7L181.1 1167.9L182.0 1163.3L182.8 1171.1L183.6 1168.1L184.5 1168.7L185.3 1169.1L186.2 1162.7L187.0 1170.8L187.8 1176.5L188.7 1159.8L189.5 1159.4L190.4 1160.4L191.2 1170.9L192.0 1167.7L192.9 1171.9L193.7 1170.2L194.6 1167.8L195.4 1168.0L196.2 1165.8L197.1 1170.4L197.9 1161.3L198.8 1164.4L199.6 1167.3L200.4 1174.3L201.3 1162.6L202.1 1161.1L203.0 1163.4L203.8 1170.2L204.6 1164.8L205.5 1171.9L206.3 1157.4L207.2 1171.1L208.0 1170.7L208.8 1159.7L209.7 1167.0L210.5 1171.9L211.4 1166.9L212.2 1171.1L213.0 1177.4L213.9 1168.0L214.7 1165.6L215.6 1163.4L216.4 1169.9L217.2 1166.1L218.1 1166.2L218.9 1166.5L219.8 1169.9L220.6 1162.0L221.4 1159.8L222.3 1155.6L223.1 1171.9L224.0 1166.6L224.8 1172.9L225.6 1165.8L226.5 1162.3L227.3 1167.6L228.2 1164.8L229.0 1159.2L229.8 1160.7L230.7 1172.4L231.5 1165.8L232.4 1165.8L233.2 1162.5L234.0 1160.4L234.9 1167.4L235.7 1162.8L236.6 1159.7L237.4 1162.4L238.2 1158.9L239.1 1163.7L239.9 1167.9L240.8 1158.9L241.6 1169.1L242.4 1159.4L243.3 1163.0L244.1 1158.3L245.0 1160.9L245.8 1161.9L246.6 1159.4L247.5 1157.9L248.3 1157.8L249.2 1156.8L250.0 1153.0L250.8 1158.5L251.7 1161.1L252.5 1162.9L253.4 1161.2L254.2 1169.0L255.0 1158.7L255.9 1154.7L256.7 1164.8L257.6 1151.0L258.4 1159.6L259.2 1150.3L260.1 1155.6L260.9 1144.2L261.8 1156.5L262.6 1150.6L263.4 1145.6L264.3 1155.7L265.1 1149.1L266.0 1143.5L266.8 1138.3L267.6 1140.8L268.5 1139.7L269.3 1143.8L270.2 1145.4L271.0 1140.6L271.8 1143.1L272.7 1144.5L273.5 1141.8L274.4 1146.4L275.2 1149.8L276.0 1154.6L276.9 1159.0L277.7 1151.1L278.6 1159.3L279.4 1156.6L280.2 1169.8L281.1 1161.6L281.9 1165.0L282.8 1159.1L283.6 1160.1L284.4 1165.2L285.3 1162.9L286.1 1166.6L287.0 1158.3L287.8 1168.7L288.6 1161.9L289.5 1174.0L290.3 1165.2L291.2 1171.7L292.0 1160.8L292.8 1169.3L293.7 1163.7L294.5 1165.9L295.4 1168.6L296.2 1167.4L297.0 1170.5L297.9 1173.1L298.7 1173.2L299.6 1170.3L300.4 1165.0L301.2 1168.0L302.1 1171.2L302.9 1162.9L303.8 1176.2L304.6 1172.1L305.4 1172.3L306.3 1178.0L307.1 1176.8L308.0 1174.9L308.8 1169.5L309.6 1175.4L310.5 1175.5L311.3 1169.9L312.2 1178.4L313.0 1175.8L313.8 1164.5L314.7 1173.7L315.5 1167.2L316.4 1177.7L317.2 1175.9L318.0 1167.0L318.9 1167.7L319.7 1171.9L320.6 1170.0L321.4 1177.7L322.2 1173.9L323.1 1169.1L323.9 1172.8L324.8 1160.9L325.6 1171.4L326.4 1173.8L327.3 1169.1L328.1 1166.7L329.0 1172.5L329.8 1178.9L330.6 1171.2L331.5 1165.5L332.3 1177.2L333.2 1162.6L334.0 1173.5L334.8 1168.9L335.7 1175.9L336.5 1168.2L337.4 1178.1L338.2 1173.7L339.0 1164.7L339.9 1163.7L340.7 1171.2L341.6 1178.4L342.4 1173.2L343.2 1172.9L344.1 1171.5L344.9 1175.8L345.8 1174.1L346.6 1173.5L347.4 1167.8L348.3 1177.3L349.1 1177.9L350.0 1165.9L350.8 1181.7L351.6 1174.4L352.5 1168.8L353.3 1162.2L354.2 1173.2L355.0 1172.3L355.8 1166.7L356.7 1160.9L357.5 1173.2L358.4 1165.1L359.2 1165.0L360.0 1178.1L360.9 1175.4L361.7 1169.7L362.6 1162.9L363.4 1167.3L364.2 1154.0L365.1 1164.1L365.9 1160.0L366.8 1157.4L367.6 1155.9L368.4 1164.8L369.3 1162.7L370.1 1162.8L371.0 1165.5L371.8 1158.0L372.6 1156.1L373.5 1153.5L374.3 1159.5L375.2 1164.0L376.0 1159.8L376.8 1162.9L377.7 1154.8L378.5 1157.5L379.4 1156.0L380.2 1153.6L381.0 1166.4L381.9 1161.8L382.7 1154.8L383.6 1154.5L384.4 1157.2L385.2 1151.3L386.1 1158.9L386.9 1151.6L387.8 1155.2L388.6 1152.3L389.4 1154.3L390.3 1150.6L391.1 1149.3L392.0 1151.2L392.8 1151.8L393.6 1152.6L394.5 1153.3L395.3 1158.4L396.2 1154.7L397.0 1149.6L397.8 1152.5L398.7 1145.8L399.5 1153.1L400.4 1148.3L401.2 1139.6L402.0 1146.7L402.9 1145.8L403.7 1131.3L404.6 1137.6L405.4 1137.7L406.2 1131.0L407.1 1133.4L407.9 1132.8L408.8 1137.4L409.6 1135.4L410.4 1143.2L411.3 1130.1L412.1 1134.7L413.0 1129.0L413.8 1128.1L414.6 1120.7L415.5 1115.7L416.3 1117.9L417.2 1121.4L418.0 1121.4L418.8 1113.5L419.7 1108.5L420.5 1098.3L421.4 1102.7L422.2 1096.9L423.0 1084.6L423.9 1081.7L424.7 1072.9L425.6 1078.0L426.4 1068.5L427.2 1061.2L428.1 1057.9L428.9 1052.4L429.8 1043.1L430.6 1033.4L431.4 1026.6L432.3 1017.7L433.1 1019.7L434.0 1020.0L434.8 996.2L435.6 997.3L436.5 991.6L437.3 978.7L438.2 977.3L439.0 966.0L439.8 971.8L440.7 960.4L441.5 960.4L442.4 960.3L443.2 952.9L444.0 944.3L444.9 947.4L445.7 951.0L446.6 946.2L447.4 947.6L448.2 942.3L449.1 948.3L449.9 951.5L450.8 948.8L451.6 957.0L452.4 947.1L453.3 942.8L454.1 939.8L455.0 952.8L455.8 951.8L456.6 961.8L457.5 963.1L458.3 971.8L459.2 973.3L460.0 967.6L460.8 970.3L461.7 973.4L462.5 962.6L463.4 973.3L464.2 971.1L465.0 968.8L465.9 962.2L466.7 962.7L467.6 954.2L468.4 956.6L469.2 950.7L470.1 950.1L470.9 943.7L471.8 942.9L472.6 941.5L473.4 924.0L474.3 926.8L475.1 905.9L476.0 897.2L476.8 898.6L477.6 891.5L478.5 885.8L479.3 868.2L480.2 867.2L481.0 859.4L481.8 855.3L482.7 838.9L483.5 830.5L484.4 810.6L485.2 801.0L486.0 786.4L486.9 779.2L487.7 758.1L488.6 746.1L489.4 740.4L490.2 733.9L491.1 714.0L491.9 700.6L492.8 684.8L493.6 680.8L494.4 667.9L495.3 664.6L496.1 648.2L497.0 632.9L497.8 627.0L498.6 617.7L499.5 610.1L500.3 618.1L501.2 610.9L502.0 595.7L502.8 607.9L503.7 595.9L504.5 585.6L505.4 589.2L506.2 584.1L507.0 578.7L507.9 571.1L508.7 581.1L509.6 583.9L510.4 572.7L511.2 593.9L512.1 598.3L512.9 597.7L513.8 607.9L514.6 614.4L515.4 620.6L516.3 632.1L517.1 649.2L518.0 642.4L518.8 659.3L519.6 667.5L520.5 672.1L521.3 683.4L522.2 689.1L523.0 703.1L523.8 719.4L524.7 734.5L525.5 743.6L526.4 776.2L527.2 774.6L528.0 789.2L528.9 797.1L529.7 805.1L530.6 821.2L531.4 819.9L532.2 835.2L533.1 840.4L533.9 835.7L534.8 850.9L535.6 848.3L536.4 868.8L537.3 860.4L538.1 863.8L539.0 865.6L539.8 874.7L540.6 883.9L541.5 887.4L542.3 890.9L543.2 897.0L544.0 902.1L544.8 912.0L545.7 899.9L546.5 907.1L547.4 907.3L548.2 907.0L549.0 910.8L549.9 915.6L550.7 927.3L551.6 929.7L552.4 934.9L553.2 944.9L554.1 946.9L554.9 947.6L555.8 952.9L556.6 950.4L557.4 960.0L558.3 963.1L559.1 963.6L560.0 964.6L560.8 980.9L561.6 979.0L562.5 993.7L563.3 983.0L564.2 992.4L565.0 989.7L565.8 995.4L566.7 1000.6L567.5 996.5L568.4 1002.6L569.2 1007.0L570.0 1010.2L570.9 1015.7L571.7 1020.9L572.6 1023.2L573.4 1023.6L574.2 1023.7L575.1 1023.0L575.9 1027.1L576.8 1030.3L577.6 1037.6L578.4 1035.5L579.3 1033.9L580.1 1043.6L581.0 1039.6L581.8 1041.5L582.6 1045.4L583.5 1049.8L584.3 1039.5L585.2 1046.3L586.0 1053.1L586.8 1052.4L587.7 1052.0L588.5 1055.0L589.4 1064.6L590.2 1059.0L591.0 1065.8L591.9 1068.4L592.7 1065.9L593.6 1072.2L594.4 1071.2L595.2 1073.2L596.1 1073.7L596.9 1084.0L597.8 1080.9L598.6 1082.2L599.4 1081.8L600.3 1095.3L601.1 1092.8L602.0 1091.0L602.8 1090.5L603.6 1088.7L604.5 1097.5L605.3 1098.9L606.2 1093.6L607.0 1105.1L607.8 1104.8L608.7 1099.2L609.5 1102.0L610.4 1103.7L611.2 1107.1L612.0 1107.0L612.9 1102.2L613.7 1115.4L614.6 1111.8L615.4 1116.5L616.2 1117.4L617.1 1112.6L617.9 1115.7L618.8 1118.1L619.6 1119.1L620.4 1116.4L621.3 1115.5L622.1 1118.9L623.0 1116.5L623.8 1118.3L624.6 1113.5L625.5 1122.5L626.3 1119.1L627.2 1121.8L628.0 1124.6L628.8 1126.9L629.7 1133.8L630.5 1128.2L631.4 1122.8L632.2 1129.6L633.0 1127.7L633.9 1132.4L634.7 1129.1L635.6 1129.8L636.4 1131.4L637.2 1131.9L638.1 1128.2L638.9 1133.6L639.8 1137.0L640.6 1142.6L641.4 1137.8L642.3 1138.4L643.1 1142.8L644.0 1143.5L644.8 1148.2L645.6 1145.0L646.5 1143.3L647.3 1149.0L648.2 1150.1L649.0 1142.9L649.8 1145.6L650.7 1139.0L651.5 1144.3L652.4 1142.6L653.2 1145.4L654.0 1144.7L654.9 1146.2L655.7 1146.7L656.6 1149.2L657.4 1148.5L658.2 1145.7L659.1 1143.3L659.9 1153.0L660.8 1154.0L661.6 1147.2L662.4 1151.3L663.3 1143.7L664.1 1144.0L665.0 1149.2L665.8 1156.2L666.6 1147.2L667.5 1148.5L668.3 1158.3L669.2 1145.7L670.0 1155.9L670.8 1155.9L671.7 1153.9L672.5 1156.0L673.4 1165.7L674.2 1152.3L675.0 1155.9L675.9 1156.7L676.7 1155.5L677.6 1153.4L678.4 1164.7L679.2 1159.8L680.1 1152.6L680.9 1156.7L681.8 1161.0L682.6 1161.1L683.4 1154.3L684.3 1159.5L685.1 1160.9L686.0 1161.4L686.8 1161.4L687.6 1153.0L688.5 1166.7L689.3 1160.5L690.2 1166.4L691.0 1169.2L691.8 1158.8L692.7 1154.6L693.5 1162.3L694.4 1158.2L695.2 1157.1L696.0 1154.8L696.9 1164.8L697.7 1156.8L698.6 1153.2L699.4 1156.8L700.2 1154.4L701.1 1159.5L701.9 1157.6L702.8 1155.6L703.6 1162.2L704.4 1157.9L705.3 1163.5L706.1 1165.9L707.0 1160.3L707.8 1159.7L708.6 1163.3L709.5 1166.3L710.3 1163.3L711.2 1164.2L712.0 1163.9L712.8 1165.4L713.7 1166.7L714.5 1161.9L715.4 1162.8L716.2 1164.9L717.0 1162.4L717.9 1165.5L718.7 1167.2L719.6 1165.3L720.4 1163.3L721.2 1162.8L722.1 1172.4L722.9 1169.4L723.8 1162.1L724.6 1163.4L725.4 1173.6L726.3 1172.4L727.1 1167.5L728.0 1171.4L728.8 1161.7L729.6 1167.3L730.5 1170.1L731.3 1160.5L732.2 1164.4L733.0 1170.2L733.8 1171.4L734.7 1164.9L735.5 1168.1L736.4 1172.8L737.2 1165.3L738.0 1161.6L738.9 1166.2L739.7 1164.8L740.6 1170.9L741.4 1166.5L742.2 1162.8L743.1 1174.5L743.9 1163.6L744.8 1167.1L745.6 1167.8L746.4 1168.2L747.3 1165.9L748.1 1167.4L749.0 1165.0L749.8 1160.1L750.6 1164.6L751.5 1164.9L752.3 1165.1L753.2 1166.5L754.0 1163.9L754.8 1171.4L755.7 1172.6L756.5 1158.9L757.4 1167.3L758.2 1164.9L759.0 1158.1L759.9 1169.6L760.7 1166.0L761.6 1167.1L762.4 1166.3L763.2 1173.0L764.1 1173.8L764.9 1170.4L765.8 1172.2L766.6 1169.5L767.4 1170.7L768.3 1167.7L769.1 1170.9L770.0 1168.5L770.8 1172.9L771.6 1175.0L772.5 1173.4L773.3 1177.1L774.2 1182.7L775.0 1165.6L775.8 1173.8L776.7 1172.0L777.5 1172.7L778.4 1169.6L779.2 1175.0L780.0 1174.1L780.9 1172.9L781.7 1174.4L782.6 1173.2L783.4 1166.7L784.2 1179.3L785.1 1174.2L785.9 1171.7L786.8 1176.2L787.6 1172.4L788.4 1166.6L789.3 1177.8L790.1 1168.1L791.0 1173.3L791.8 1174.4L792.6 1178.7L793.5 1178.0L794.3 1174.1L795.2 1170.6L796.0 1171.8L796.8 1177.4L797.7 1180.0L798.5 1175.4L799.4 1171.1L800.2 1177.3L801.0 1172.2L801.9 1172.2L802.7 1172.8L803.6 1176.1L804.4 1175.1L805.2 1177.8L806.1 1179.0L806.9 1176.2L807.8 1165.7L808.6 1168.1L809.4 1175.0L810.3 1174.2L811.1 1182.4L812.0 1174.2L812.8 1173.7L813.6 1177.7L814.5 1178.1L815.3 1173.2L816.2 1175.8L817.0 1169.8L817.8 1170.4L818.7 1178.4L819.5 1168.7L820.4 1177.3L821.2 1176.4L822.0 1176.8L822.9 1177.4L823.7 1176.2L824.6 1166.3L825.4 1170.6L826.2 1172.2L827.1 1178.0L827.9 1170.5L828.8 1172.2L829.6 1173.6L830.4 1179.9L831.3 1169.8L832.1 1170.2L833.0 1177.6L833.8 1167.5L834.6 1176.7L835.5 1173.8L836.3 1169.7L837.2 1174.0L838.0 1171.9L838.8 1176.3L839.7 1177.1L840.5 1181.3L841.4 1175.8L842.2 1176.3L843.0 1173.9L843.9 1176.0L844.7 1180.0L845.6 1169.1L846.4 1178.8L847.2 1174.4L848.1 1176.8L848.9 1177.8L849.8 1179.8L850.6 1177.6L851.4 1175.3L852.3 1178.0L853.1 1176.9L854.0 1176.1L854.8 1177.6L855.6 1180.1L856.5 1177.3L857.3 1177.3L858.2 1171.9L859.0 1176.1L859.8 1169.6L860.7 1179.0L861.5 1172.7L862.4 1180.9L863.2 1185.6L864.0 1174.3L864.9 1180.6L865.7 1177.0L866.6 1173.2L867.4 1172.0L868.2 1177.0L869.1 1179.9L869.9 1175.9L870.8 1168.9L871.6 1170.5L872.4 1173.4L873.3 1179.1L874.1 1175.1L875.0 1175.2L875.8 1178.4L876.6 1173.2L877.5 1173.6L878.3 1173.2L879.2 1167.3L880.0 1175.6L880.8 1175.3L881.7 1177.4L882.5 1169.3L883.4 1170.6L884.2 1176.9L885.0 1174.5L885.9 1178.3L886.7 1169.9L887.6 1173.7L888.4 1170.3L889.2 1173.8L890.1 1170.7L890.9 1174.4L891.8 1176.3L892.6 1174.8L893.4 1165.5L894.3 1175.6L895.1 1173.8L896.0 1168.3L896.8 1168.9L897.6 1172.2L898.5 1174.3L899.3 1170.5L900.2 1166.1L901.0 1173.1L901.8 1172.7L902.7 1181.1L903.5 1167.2L904.4 1181.3L905.2 1178.3L906.0 1172.9L906.9 1177.9L907.7 1172.1L908.6 1175.3L909.4 1168.9L910.2 1171.9L911.1 1167.9L911.9 1165.8L912.8 1170.7L913.6 1169.4L914.4 1174.0L915.3 1176.7L916.1 1171.4L917.0 1172.4L917.8 1172.9L918.6 1166.1L919.5 1173.5L920.3 1172.6L921.2 1172.5L922.0 1168.7L922.8 1165.5L923.7 1171.9L924.5 1174.1L925.4 1177.9L926.2 1177.1L927.0 1178.3L927.9 1174.2L928.7 1177.0L929.6 1171.9L930.4 1174.8L931.2 1175.7L932.1 1181.7L932.9 1172.8L933.8 1166.9L934.6 1176.5L935.4 1168.3L936.3 1170.8L937.1 1169.7L938.0 1167.3L938.8 1175.5L939.6 1172.7L940.5 1168.1L941.3 1170.6L942.2 1168.7L943.0 1172.5L943.8 1168.8L944.7 1167.3L945.5 1167.7L946.4 1168.4L947.2 1171.0L948.0 1166.5L948.9 1169.4L949.7 1171.3L950.6 1178.2L951.4 1172.6L952.2 1159.7L953.1 1167.3L953.9 1167.6L954.8 1170.2L955.6 1174.8L956.4 1171.8L957.3 1160.5L958.1 1170.3L959.0 1169.6L959.8 1170.9L960.6 1174.6L961.5 1165.7L962.3 1174.0L963.2 1164.0L964.0 1170.5L964.8 1171.9L965.7 1179.2L966.5 1168.3L967.4 1164.8L968.2 1173.8L969.0 1168.9L969.9 1177.3L970.7 1169.0L971.6 1168.4L972.4 1176.4L973.2 1172.1L974.1 1175.6L974.9 1166.6L975.8 1178.0L976.6 1169.8L977.4 1175.0L978.3 1168.2L979.1 1166.2L980.0 1171.0L980.8 1172.5L981.6 1177.7L982.5 1173.1L983.3 1174.3L984.2 1174.1L985.0 1181.2L985.8 1168.4L986.7 1176.0L987.5 1170.7L988.4 1172.0L989.2 1168.9L990.0 1175.1L990.9 1166.0L991.7 1165.5L992.6 1169.5L993.4 1165.7L994.2 1172.4L995.1 1173.0L995.9 1166.5L996.8 1172.0L997.6 1166.4L998.4 1168.5L999.3 1168.6L1000.1 1175.3L1001.0 1168.3L1001.8 1164.8L1002.6 1164.7L1003.5 1172.5L1004.3 1161.9L1005.2 1166.3L1006.0 1166.7L1006.8 1159.0L1007.7 1166.4L1008.5 1171.9L1009.4 1169.1L1010.2 1164.9L1011.0 1170.9L1011.9 1170.2L1012.7 1175.9L1013.6 1165.7L1014.4 1167.0L1015.2 1168.6L1016.1 1167.9L1016.9 1168.8L1017.8 1168.1L1018.6 1165.9L1019.4 1162.5L1020.3 1166.4L1021.1 1163.4L1022.0 1164.7L1022.8 1166.6L1023.6 1170.6L1024.5 1172.0L1025.3 1165.2L1026.2 1170.3L1027.0 1172.3L1027.8 1169.3L1028.7 1163.6L1029.5 1161.8L1030.4 1172.9L1031.2 1173.5L1032.0 1171.2L1032.9 1166.3L1033.7 1175.6L1034.6 1174.7L1035.4 1170.0L1036.2 1169.2L1037.1 1162.6L1037.9 1172.5L1038.8 1163.6L1039.6 1171.9L1040.4 1171.8L1041.3 1169.3L1042.1 1174.6L1043.0 1167.5L1043.8 1170.8L1044.6 1171.5L1045.5 1169.5L1046.3 1167.0L1047.2 1173.2L1048.0 1170.4L1048.8 1168.3L1049.7 1168.6L1050.5 1169.9L1051.4 1178.1L1052.2 1170.3L1053.0 1169.3L1053.9 1166.5L1054.7 1166.1L1055.6 1163.8L1056.4 1171.8L1057.2 1171.2L1058.1 1167.3L1058.9 1165.6L1059.8 1169.9L1060.6 1169.1L1061.4 1166.1L1062.3 1172.0L1063.1 1171.3L1064.0 1170.4L1064.8 1173.3L1065.6 1167.9L1066.5 1175.2L1067.3 1166.2L1068.2 1171.7L1069.0 1172.1L1069.8 1168.6L1070.7 1170.8L1071.5 1164.6L1072.4 1163.7L1073.2 1168.5L1074.0 1166.5L1074.9 1171.4L1075.7 1169.4L1076.6 1171.6L1077.4 1170.6L1078.2 1170.2L1079.1 1169.9L1079.9 1168.3L1080.8 1168.1L1081.6 1177.4L1082.4 1163.5L1083.3 1169.4L1084.1 1173.8L1085.0 1171.7L1085.8 1175.4L1086.6 1172.2L1087.5 1165.4L1088.3 1168.9L1089.2 1164.8L1090.0 1173.6L1090.8 1175.3L1091.7 1168.3L1092.5 1171.9L1093.4 1168.4L1094.2 1164.6L1095.0 1168.3L1095.9 1164.1L1096.7 1168.0L1097.6 1170.9L1098.4 1172.9L1099.2 1175.1L1100.1 1169.1L1100.9 1171.3L1101.8 1172.0L1102.6 1172.5L1103.4 1161.1L1104.3 1167.7L1105.1 1173.5L1106.0 1166.4L1106.8 1171.4L1107.6 1173.5L1108.5 1163.4L1109.3 1169.6L1110.2 1171.1L1111.0 1170.2L1111.8 1164.4L1112.7 1171.3L1113.5 1167.9L1114.4 1173.0L1115.2 1171.5L1116.0 1167.8L1116.9 1170.5L1117.7 1167.4L1118.6 1167.4L1119.4 1164.2L1120.2 1169.3L1121.1 1173.4L1121.9 1171.0L1122.8 1170.7L1123.6 1168.7L1124.4 1169.4L1125.3 1174.3L1126.1 1166.3L1127.0 1179.8L1127.8 1172.2L1128.6 1180.7L1129.5 1177.2L1130.3 1171.5L1131.2 1175.9L1132.0 1174.3L1132.8 1175.2L1133.7 1176.5L1134.5 1171.5L1135.4 1171.3L1136.2 1172.1L1137.0 1168.6L1137.9 1172.7L1138.7 1174.5L1139.6 1174.5L1140.4 1174.3L1141.2 1172.1L1142.1 1176.4L1142.9 1165.8L1143.8 1171.9L1144.6 1172.1L1145.4 1176.5L1146.3 1175.5L1147.1 1175.9L1148.0 1172.9L1148.8 1176.3L1149.6 1169.0L1150.5 1172.9L1151.3 1164.7L1152.2 1178.9L1153.0 1178.4L1153.8 1170.3L1154.7 1169.5L1155.5 1164.9L1156.4 1167.1L1157.2 1173.3L1158.0 1172.4L1158.9 1167.6L1159.7 1171.3L1160.6 1170.8L1161.4 1175.0L1162.2 1176.0L1163.1 1172.6L1163.9 1173.9L1164.8 1173.4L1165.6 1165.8L1166.4 1174.2L1167.3 1173.3L1168.1 1176.3L1169.0 1166.7L1169.8 1176.4L1170.6 1171.1L1171.5 1174.5L1172.3 1177.9L1173.2 1167.9L1174.0 1168.4L1174.8 1176.8L1175.7 1168.7L1176.5 1169.2L1177.4 1174.8L1178.2 1171.6L1179.0 1175.0L1179.9 1173.1L1180.7 1171.7L1181.6 1175.3L1182.4 1179.6L1183.2 1171.0L1184.1 1176.8L1184.9 1175.4L1185.8 1171.6L1186.6 1172.9L1187.4 1167.8L1188.3 1169.0L1189.1 1172.3L1190.0 1171.2L1190.8 1176.2L1191.6 1166.6L1192.5 1170.3L1193.3 1169.0L1194.2 1170.8L1195.0 1175.6L1195.8 1166.8L1196.7 1174.4L1197.5 1169.0L1198.4 1169.9L1199.2 1174.7L1200.0 1170.0L1200.9 1173.5L1201.7 1171.4L1202.6 1170.3L1203.4 1169.7L1204.2 1164.6L1205.1 1168.2L1205.9 1171.6L1206.8 1171.8L1207.6 1165.5L1208.4 1174.7L1209.3 1173.0L1210.1 1166.0L1211.0 1166.9L1211.8 1172.5L1212.6 1164.0L1213.5 1167.7L1214.3 1170.1L1215.2 1169.7L1216.0 1169.9L1216.8 1171.4L1217.7 1166.8L1218.5 1167.8L1219.4 1177.1L1220.2 1164.1L1221.0 1167.5L1221.9 1169.4L1222.7 1166.4L1223.6 1173.1L1224.4 1168.6L1225.2 1171.0L1226.1 1158.7L1226.9 1172.2L1227.8 1171.9L1228.6 1164.6L1229.4 1172.1L1230.3 1168.0L1231.1 1170.3L1232.0 1173.5L1232.8 1166.9L1233.6 1162.5L1234.5 1166.0L1235.3 1161.0L1236.2 1162.4L1237.0 1162.2L1237.8 1162.0L1238.7 1168.5L1239.5 1166.6L1240.4 1159.4L1241.2 1166.1L1242.0 1154.7L1242.9 1157.5L1243.7 1158.4L1244.6 1162.4L1245.4 1159.6L1246.2 1157.5L1247.1 1159.6L1247.9 1156.3L1248.8 1157.5L1249.6 1148.2L1250.4 1143.5L1251.3 1146.9L1252.1 1150.3L1253.0 1146.7L1253.8 1147.5L1254.6 1145.3L1255.5 1142.8L1256.3 1142.2L1257.2 1134.5L1258.0 1139.5L1258.8 1129.4L1259.7 1130.6L1260.5 1123.4L1261.4 1128.4L1262.2 1117.9L1263.0 1126.7L1263.9 1113.1L1264.7 1116.3L1265.6 1111.6L1266.4 1105.4L1267.2 1110.3L1268.1 1100.1L1268.9 1103.8L1269.8 1090.0L1270.6 1086.4L1271.4 1076.5L1272.3 1080.5L1273.1 1074.2L1274.0 1063.4L1274.8 1055.1L1275.6 1046.2L1276.5 1054.4L1277.3 1042.8L1278.2 1027.5L1279.0 1029.6L1279.8 1016.3L1280.7 1029.8L1281.5 1028.1L1282.4 1022.7L1283.2 1013.2L1284.0 1007.9L1284.9 1001.4L1285.7 1006.5L1286.6 997.9L1287.4 996.6L1288.2 992.8L1289.1 992.1L1289.9 995.7L1290.8 997.9L1291.6 990.3L1292.4 989.0L1293.3 983.8L1294.1 983.4L1295.0 984.3L1295.8 993.0L1296.6 990.6L1297.5 994.3L1298.3 992.7L1299.2 990.5L1300.0 988.9L1300.8 995.2L1301.7 994.1L1302.5 1013.9L1303.4 1012.0L1304.2 1013.7L1305.0 1027.0L1305.9 1019.9L1306.7 1026.6L1307.6 1026.5L1308.4 1032.0L1309.2 1033.3L1310.1 1042.2L1310.9 1051.3L1311.8 1044.2L1312.6 1043.2L1313.4 1060.4L1314.3 1057.7L1315.1 1062.6L1316.0 1060.0L1316.8 1069.7L1317.6 1073.2L1318.5 1063.4L1319.3 1073.3L1320.2 1070.4L1321.0 1068.6L1321.8 1076.1L1322.7 1081.6L1323.5 1075.8L1324.4 1078.0L1325.2 1090.1L1326.0 1087.1L1326.9 1090.5L1327.7 1086.1L1328.6 1089.9L1329.4 1094.8L1330.2 1096.8L1331.1 1098.4L1331.9 1105.7L1332.8 1101.6L1333.6 1096.4L1334.4 1100.5L1335.3 1105.2L1336.1 1111.9L1337.0 1105.6L1337.8 1108.3L1338.6 1111.3L1339.5 1110.3L1340.3 1111.4L1341.2 1115.4L1342.0 1121.9L1342.8 1121.6L1343.7 1120.2L1344.5 1124.6L1345.4 1119.8L1346.2 1130.4L1347.0 1131.1L1347.9 1131.2L1348.7 1125.6L1349.6 1141.6L1350.4 1126.1L1351.2 1133.5L1352.1 1135.5L1352.9 1143.3L1353.8 1136.4L1354.6 1144.5L1355.4 1144.4L1356.3 1145.3L1357.1 1151.1L1358.0 1154.5L1358.8 1151.9L1359.6 1150.5L1360.5 1144.0L1361.3 1159.3L1362.2 1153.6L1363.0 1148.7L1363.8 1157.3L1364.7 1163.1L1365.5 1157.9L1366.4 1154.8L1367.2 1168.5L1368.0 1162.9L1368.9 1162.4L1369.7 1165.4L1370.6 1153.7L1371.4 1162.0L1372.2 1161.9L1373.1 1171.3L1373.9 1160.9L1374.8 1161.1L1375.6 1158.2L1376.4 1160.5L1377.3 1163.0L1378.1 1165.0L1379.0 1163.4L1379.8 1171.9L1380.6 1166.4L1381.5 1167.1L1382.3 1170.1L1383.2 1167.5L1384.0 1163.3L1384.8 1159.6L1385.7 1167.0L1386.5 1162.6L1387.4 1170.8L1388.2 1163.1L1389.0 1157.6L1389.9 1166.2L1390.7 1170.1L1391.6 1165.4L1392.4 1166.8L1393.2 1166.7L1394.1 1172.6L1394.9 1167.2L1395.8 1165.9L1396.6 1163.8L1397.4 1159.9L1398.3 1171.4L1399.1 1170.5L1400.0 1162.7L1400.8 1168.7L1401.6 1167.8L1402.5 1165.3L1403.3 1165.8L1404.2 1170.1L1405.0 1163.1L1405.8 1166.0L1406.7 1168.0L1407.5 1168.7L1408.4 1168.3L1409.2 1170.4L1410.0 1171.9L1410.9 1167.0L1411.7 1171.0L1412.6 1169.0L1413.4 1176.9L1414.2 1166.2L1415.1 1170.8L1415.9 1174.5L1416.8 1171.0L1417.6 1170.9L1418.4 1170.3L1419.3 1173.6L1420.1 1168.2L1421.0 1172.3L1421.8 1172.4L1422.6 1167.3L1423.5 1174.0L1424.3 1171.3L1425.2 1174.3L1426.0 1176.4L1426.8 1174.5L1427.7 1168.9L1428.5 1174.6L1429.4 1167.4L1430.2 1170.5L1431.0 1179.6L1431.9 1173.4L1432.7 1179.1L1433.6 1172.6L1434.4 1173.2L1435.2 1168.9L1436.1 1176.6L1436.9 1172.2L1437.8 1175.2L1438.6 1174.4L1439.4 1174.7L1440.3 1173.9L1441.1 1172.4L1442.0 1172.5L1442.8 1169.9L1443.6 1164.5L1444.5 1174.3L1445.3 1180.2L1446.2 1176.4L1447.0 1181.1L1447.8 1174.1L1448.7 1168.6L1449.5 1168.4L1450.4 1174.8L1451.2 1173.2L1452.0 1171.2L1452.9 1174.5L1453.7 1168.3L1454.6 1173.5L1455.4 1170.4L1456.2 1171.9L1457.1 1175.7L1457.9 1170.7L1458.8 1176.3L1459.6 1176.0L1460.4 1168.2L1461.3 1179.7L1462.1 1166.3L1463.0 1170.5L1463.8 1173.6L1464.6 1162.3L1465.5 1174.8L1466.3 1175.2L1467.2 1170.7L1468.0 1172.2L1468.8 1172.2L1469.7 1170.8L1470.5 1175.8L1471.4 1170.7L1472.2 1172.1L1473.0 1173.9L1473.9 1175.9L1474.7 1177.1L1475.6 1167.6L1476.4 1165.7L1477.2 1172.9L1478.1 1173.4L1478.9 1169.6L1479.8 1174.9L1480.6 1176.1L1481.4 1175.2L1482.3 1180.0L1483.1 1169.9L1484.0 1173.8L1484.8 1181.0L1485.6 1176.3L1486.5 1169.5L1487.3 1174.5L1488.2 1178.1L1489.0 1181.5L1489.8 1176.3L1490.7 1178.2L1491.5 1169.8L1492.4 1173.1L1493.2 1178.6L1494.0 1170.7L1494.9 1174.2L1495.7 1167.5L1496.6 1180.2L1497.4 1174.3L1498.2 1177.0L1499.1 1169.3L1499.9 1170.1L1500.8 1181.9L1501.6 1173.8L1502.4 1173.1L1503.3 1177.0L1504.1 1177.2L1505.0 1167.7L1505.8 1171.4L1506.6 1175.3L1507.5 1175.1L1508.3 1176.3L1509.2 1173.4L1510.0 1174.0L1510.8 1175.8L1511.7 1172.4L1512.5 1171.9L1513.4 1172.9L1514.2 1175.0L1515.0 1174.4L1515.9 1173.1L1516.7 1173.9L1517.6 1174.6L1518.4 1175.9L1519.2 1176.0L1520.1 1169.7L1520.9 1178.0L1521.8 1168.3L1522.6 1176.2L1523.4 1171.4L1524.3 1176.1L1525.1 1177.7L1526.0 1166.6L1526.8 1175.8L1527.6 1174.5L1528.5 1171.6L1529.3 1174.7L1530.2 1171.3L1531.0 1173.5L1531.8 1169.1L1532.7 1175.8L1533.5 1175.0L1534.4 1175.4L1535.2 1170.1L1536.0 1179.2L1536.9 1179.6L1537.7 1171.7L1538.6 1170.3L1539.4 1170.2L1540.2 1174.1L1541.1 1175.2L1541.9 1168.4L1542.8 1163.5L1543.6 1172.6L1544.4 1170.6L1545.3 1171.3L1546.1 1172.5L1547.0 1166.3L1547.8 1170.7L1548.6 1169.3L1549.5 1171.7L1550.3 1174.9L1551.2 1170.3L1552.0 1167.1L1552.8 1175.0L1553.7 1173.0L1554.5 1169.7L1555.4 1163.8L1556.2 1167.3L1557.0 1171.2L1557.9 1172.6L1558.7 1168.6L1559.6 1172.0L1560.4 1167.9L1561.2 1168.5L1562.1 1171.8L1562.9 1168.5L1563.8 1169.8L1564.6 1172.2L1565.4 1172.8L1566.3 1166.1L1567.1 1167.0L1568.0 1162.7L1568.8 1162.4L1569.6 1168.0L1570.5 1164.5L1571.3 1159.1L1572.2 1167.7L1573.0 1162.1L1573.8 1163.7L1574.7 1166.0L1575.5 1165.6L1576.4 1163.5L1577.2 1155.9L1578.0 1165.1L1578.9 1160.4L1579.7 1157.0L1580.6 1153.7L1581.4 1166.6L1582.2 1161.9L1583.1 1161.4L1583.9 1163.0L1584.8 1160.1L1585.6 1154.5L1586.4 1162.2L1587.3 1163.0L1588.1 1160.9L1589.0 1164.3L1589.8 1165.3L1590.6 1154.7L1591.5 1155.7L1592.3 1160.2L1593.2 1157.1L1594.0 1156.7L1594.8 1159.0L1595.7 1157.7L1596.5 1152.7L1597.4 1154.2L1598.2 1150.4L1599.0 1151.6L1599.9 1147.4L1600.7 1143.4L1601.6 1148.1L1602.4 1146.9L1603.2 1151.6L1604.1 1153.3L1604.9 1146.5L1605.8 1147.3L1606.6 1142.1L1607.4 1140.1L1608.3 1141.5L1609.1 1140.6L1610.0 1141.8L1610.8 1140.2L1611.6 1145.1L1612.5 1136.9L1613.3 1130.3L1614.2 1135.9L1615.0 1131.7L1615.8 1133.6L1616.7 1135.7L1617.5 1127.4L1618.4 1128.0L1619.2 1128.6L1620.0 1121.2L1620.9 1124.0L1621.7 1123.4L1622.6 1122.6L1623.4 1121.9L1624.2 1118.0L1625.1 1115.5L1625.9 1106.6L1626.8 1100.1L1627.6 1104.4L1628.4 1111.7L1629.3 1104.6L1630.1 1093.3L1631.0 1098.4L1631.8 1099.3L1632.6 1088.4L1633.5 1095.7L1634.3 1086.4L1635.2 1092.4L1636.0 1085.6L1636.8 1093.0L1637.7 1074.2L1638.5 1077.8L1639.4 1067.8L1640.2 1075.6L1641.0 1069.0L1641.9 1069.8L1642.7 1064.4L1643.6 1057.1L1644.4 1057.1L1645.2 1052.6L1646.1 1051.4L1646.9 1054.4L1647.8 1056.5L1648.6 1054.1L1649.4 1051.3L1650.3 1045.7L1651.1 1049.1L1652.0 1042.6L1652.8 1046.1L1653.6 1047.8L1654.5 1042.9L1655.3 1041.1L1656.2 1040.8L1657.0 1044.9L1657.8 1041.0L1658.7 1036.6L1659.5 1041.0L1660.4 1038.8L1661.2 1049.9L1662.0 1044.4L1662.9 1039.1L1663.7 1047.0L1664.6 1049.7L1665.4 1049.3L1666.2 1047.6L1667.1 1051.3L1667.9 1053.6L1668.8 1058.6L1669.6 1058.1L1670.4 1068.0L1671.3 1060.1L1672.1 1069.5L1673.0 1066.2L1673.8 1062.3L1674.6 1067.7L1675.5 1068.5L1676.3 1072.2L1677.2 1087.1L1678.0 1082.7L1678.8 1090.4L1679.7 1086.8L1680.5 1092.1L1681.4 1089.5L1682.2 1098.5L1683.0 1095.4L1683.9 1095.8L1684.7 1098.0L1685.6 1108.3L1686.4 1102.5L1687.2 1105.1L1688.1 1098.0L1688.9 1101.4L1689.8 1106.1L1690.6 1098.9L1691.4 1112.6L1692.3 1109.7L1693.1 1109.8L1694.0 1110.4L1694.8 1111.4L1695.6 1111.6L1696.5 1120.1L1697.3 1118.6L1698.2 1121.8L1699.0 1117.0L1699.8 1115.9L1700.7 1125.6L1701.5 1116.7L1702.4 1120.1L1703.2 1126.3L1704.0 1128.9L1704.9 1120.8L1705.7 1126.0L1706.6 1128.3L1707.4 1128.9L1708.2 1127.3L1709.1 1134.4L1709.9 1131.0L1710.8 1133.2L1711.6 1126.7L1712.4 1135.9L1713.3 1130.0L1714.1 1141.0L1715.0 1141.2L1715.8 1138.3L1716.6 1141.8L1717.5 1142.5L1718.3 1142.4L1719.2 1145.2L1720.0 1144.3L1720.8 1143.8L1721.7 1143.5L1722.5 1153.6L1723.4 1148.8L1724.2 1148.7L1725.0 1152.2L1725.9 1148.7L1726.7 1149.3L1727.6 1153.8L1728.4 1155.7L1729.2 1154.9L1730.1 1147.4L1730.9 1153.6L1731.8 1153.8L1732.6 1156.1L1733.4 1151.6L1734.3 1151.4L1735.1 1155.3L1736.0 1152.9L1736.8 1152.7L1737.6 1156.8L1738.5 1161.0L1739.3 1158.5L1740.2 1162.6L1741.0 1155.2L1741.8 1161.9L1742.7 1159.7L1743.5 1156.9L1744.4 1159.0L1745.2 1157.7L1746.0 1160.4L1746.9 1158.7L1747.7 1166.3L1748.6 1160.5L1749.4 1156.7L1750.2 1161.4L1751.1 1163.7L1751.9 1161.2L1752.8 1165.6L1753.6 1159.1L1754.4 1159.4L1755.3 1168.6L1756.1 1162.7L1757.0 1164.8L1757.8 1164.7L1758.6 1165.1L1759.5 1163.3L1760.3 1162.6L1761.2 1167.5L1762.0 1162.0L1762.8 1164.4L1763.7 1166.8L1764.5 1163.2L1765.4 1159.4L1766.2 1167.0L1767.0 1169.7L1767.9 1167.1L1768.7 1160.5L1769.6 1169.4L1770.4 1174.7L1771.2 1162.3L1772.1 1158.7L1772.9 1167.8L1773.8 1169.4L1774.6 1172.3L1775.4 1172.7L1776.3 1170.4L1777.1 1172.2L1778.0 1171.7L1778.8 1171.1L1779.6 1170.6L1780.5 1170.3L1781.3 1173.5L1782.2 1172.4L1783.0 1169.4L1783.8 1174.8L1784.7 1168.1L1785.5 1169.8L1786.4 1171.0L1787.2 1163.4L1788.0 1168.8L1788.9 1173.1L1789.7 1172.7L1790.6 1165.3L1791.4 1166.5L1792.2 1165.5L1793.1 1168.4L1793.9 1169.0L1794.8 1163.4L1795.6 1170.3L1796.4 1169.5L1797.3 1169.0L1798.1 1167.0L1799.0 1168.9L1799.8 1163.3L1800.6 1170.7L1801.5 1170.8L1802.3 1169.8L1803.2 1166.1L1804.0 1175.1L1804.8 1174.8L1805.7 1164.1L1806.5 1172.5L1807.4 1171.7L1808.2 1162.0L1809.0 1173.3L1809.9 1173.9L1810.7 1174.2L1811.6 1172.3L1812.4 1169.5L1813.2 1170.1L1814.1 1174.0L1814.9 1176.5L1815.8 1170.6L1816.6 1171.6L1817.4 1175.2L1818.3 1165.1L1819.1 1174.7L1820.0 1172.4L1820.8 1165.5L1821.6 1176.3L1822.5 1170.4L1823.3 1176.6L1824.2 1178.8L1825.0 1169.4L1825.8 1169.6L1826.7 1173.9L1827.5 1167.7L1828.4 1176.6L1829.2 1174.6L1830.0 1177.5L1830.9 1167.3L1831.7 1174.7L1832.6 1175.6L1833.4 1167.5L1834.2 1177.2L1835.1 1169.1L1835.9 1174.8L1836.8 1169.6L1837.6 1177.3L1838.4 1180.7L1839.3 1174.9L1840.1 1175.0L1841.0 1179.7L1841.8 1173.6L1842.6 1175.5L1843.5 1178.3L1844.3 1177.0" fill="none" stroke="#ff0000" stroke-opacity="0.32" stroke-width="3.0" stroke-linejoin="round"/><path d="M166.0 1167.8L166.8 1165.0L167.7 1165.8L168.5 1156.9L169.4 1176.3L170.2 1173.5L171.0 1167.0L171.9 1172.0L172.7 1169.8L173.6 1165.9L174.4 1172.7L175.2 1166.7L176.1 1166.5L176.9 1164.2L177.8 1169.7L178.6 1167.1L179.4 1169.9L180.3 1164.7L181.1 1167.9L182.0 1163.3L182.8 1171.1L183.6 1168.1L184.5 1168.7L185.3 1169.1L186.2 1162.7L187.0 1170.8L187.8 1176.5L188.7 1159.8L189.5 1159.4L190.4 1160.4L191.2 1170.9L192.0 1167.7L192.9 1171.9L193.7 1170.2L194.6 1167.8L195.4 1168.0L196.2 1165.8L197.1 1170.4L197.9 1161.3L198.8 1164.4L199.6 1167.3L200.4 1174.3L201.3 1162.6L202.1 1161.1L203.0 1163.4L203.8 1170.2L204.6 1164.8L205.5 1171.9L206.3 1157.4L207.2 1171.1L208.0 1170.7L208.8 1159.7L209.7 1167.0L210.5 1171.9L211.4 1166.9L212.2 1171.1L213.0 1177.4L213.9 1168.0L214.7 1165.6L215.6 1163.4L216.4 1169.9L217.2 1166.1L218.1 1166.2L218.9 1166.5L219.8 1169.9L220.6 1162.0L221.4 1159.8L222.3 1155.6L223.1 1171.9L224.0 1166.6L224.8 1172.9L225.6 1165.8L226.5 1162.3L227.3 1167.6L228.2 1164.8L229.0 1159.2L229.8 1160.7L230.7 1172.4L231.5 1165.8L232.4 1165.8L233.2 1162.5L234.0 1160.4L234.9 1167.4L235.7 1162.8L236.6 1159.7L237.4 1162.4L238.2 1158.9L239.1 1163.7L239.9 1167.9L240.8 1158.9L241.6 1169.1L242.4 1159.4L243.3 1163.0L244.1 1158.3L245.0 1160.9L245.8 1161.9L246.6 1159.4L247.5 1157.9L248.3 1157.8L249.2 1156.8L250.0 1153.0L250.8 1158.5L251.7 1161.1L252.5 1162.9L253.4 1161.2L254.2 1169.0L255.0 1158.7L255.9 1154.7L256.7 1164.8L257.6 1151.0L258.4 1159.6L259.2 1150.3L260.1 1155.6L260.9 1144.2L261.8 1156.5L262.6 1150.6L263.4 1145.6L264.3 1155.7L265.1 1149.1L266.0 1143.5L266.8 1138.3L267.6 1140.8L268.5 1139.7L269.3 1143.8L270.2 1145.4L271.0 1140.6L271.8 1143.1L272.7 1144.5L273.5 1141.8L274.4 1146.4L275.2 1149.8L276.0 1154.6L276.9 1159.0L277.7 1151.1L278.6 1159.3L279.4 1156.6L280.2 1169.8L281.1 1161.6L281.9 1165.0L282.8 1159.1L283.6 1160.1L284.4 1165.2L285.3 1162.9L286.1 1166.6L287.0 1158.3L287.8 1168.7L288.6 1161.9L289.5 1174.0L290.3 1165.2L291.2 1171.7L292.0 1160.8L292.8 1169.3L293.7 1163.7L294.5 1165.9L295.4 1168.6L296.2 1167.4L297.0 1170.5L297.9 1173.1L298.7 1173.2L299.6 1170.3L300.4 1165.0L301.2 1168.0L302.1 1171.2L302.9 1162.9L303.8 1176.2L304.6 1172.1L305.4 1172.3L306.3 1178.0L307.1 1176.8L308.0 1174.9L308.8 1169.5L309.6 1175.4L310.5 1175.5L311.3 1169.9L312.2 1178.4L313.0 1175.8L313.8 1164.5L314.7 1173.7L315.5 1167.2L316.4 1177.7L317.2 1175.9L318.0 1167.0L318.9 1167.7L319.7 1171.9L320.6 1170.0L321.4 1177.7L322.2 1173.9L323.1 1169.1L323.9 1172.8L324.8 1160.9L325.6 1171.4L326.4 1173.8L327.3 1169.1L328.1 1166.7L329.0 1172.5L329.8 1178.9L330.6 1171.2L331.5 1165.5L332.3 1177.2L333.2 1162.6L334.0 1173.5L334.8 1168.9L335.7 1175.9L336.5 1168.2L337.4 1178.1L338.2 1173.7L339.0 1164.7L339.9 1163.7L340.7 1171.2L341.6 1178.4L342.4 1173.2L343.2 1172.9L344.1 1171.5L344.9 1175.8L345.8 1174.1L346.6 1173.5L347.4 1167.8L348.3 1177.3L349.1 1177.9L350.0 1165.9L350.8 1181.7L351.6 1174.4L352.5 1168.8L353.3 1162.2L354.2 1173.2L355.0 1172.3L355.8 1166.7L356.7 1160.9L357.5 1173.2L358.4 1165.1L359.2 1165.0L360.0 1178.1L360.9 1175.4L361.7 1169.7L362.6 1162.9L363.4 1167.3L364.2 1154.0L365.1 1164.1L365.9 1160.0L366.8 1157.4L367.6 1155.9L368.4 1164.8L369.3 1162.7L370.1 1162.8L371.0 1165.5L371.8 1158.0L372.6 1156.1L373.5 1153.5L374.3 1159.5L375.2 1164.0L376.0 1159.8L376.8 1162.9L377.7 1154.8L378.5 1157.5L379.4 1156.0L380.2 1153.6L381.0 1166.4L381.9 1161.8L382.7 1154.8L383.6 1154.5L384.4 1157.2L385.2 1151.3L386.1 1158.9L386.9 1151.6L387.8 1155.2L388.6 1152.3L389.4 1154.3L390.3 1150.6L391.1 1149.3L392.0 1151.2L392.8 1151.8L393.6 1152.6L394.5 1153.3L395.3 1158.4L396.2 1154.7L397.0 1149.6L397.8 1152.5L398.7 1145.8L399.5 1153.1L400.4 1148.3L401.2 1139.6L402.0 1146.7L402.9 1145.8L403.7 1131.3L404.6 1137.6L405.4 1137.7L406.2 1131.0L407.1 1133.4L407.9 1132.8L408.8 1137.4L409.6 1135.4L410.4 1143.2L411.3 1130.1L412.1 1134.7L413.0 1129.0L413.8 1128.1L414.6 1120.7L415.5 1115.7L416.3 1117.9L417.2 1121.4L418.0 1121.4L418.8 1113.5L419.7 1108.5L420.5 1098.3L421.4 1102.7L422.2 1096.9L423.0 1084.6L423.9 1081.7L424.7 1072.9L425.6 1078.0L426.4 1068.5L427.2 1061.2L428.1 1057.9L428.9 1052.4L429.8 1043.1L430.6 1033.4L431.4 1026.6L432.3 1017.7L433.1 1019.7L434.0 1020.0L434.8 996.2L435.6 997.3L436.5 991.6L437.3 978.7L438.2 977.3L439.0 966.0L439.8 971.8L440.7 960.4L441.5 960.4L442.4 960.3L443.2 952.9L444.0 944.3L444.9 947.4L445.7 951.0L446.6 946.2L447.4 947.6L448.2 942.3L449.1 948.3L449.9 951.5L450.8 948.8L451.6 957.0L452.4 947.1L453.3 942.8L454.1 939.8L455.0 952.8L455.8 951.8L456.6 961.8L457.5 963.1L458.3 971.8L459.2 973.3L460.0 967.6L460.8 970.3L461.7 973.4L462.5 962.6L463.4 973.3L464.2 971.1L465.0 968.8L465.9 962.2L466.7 962.7L467.6 954.2L468.4 956.6L469.2 950.7L470.1 950.1L470.9 943.7L471.8 942.9L472.6 941.5L473.4 924.0L474.3 926.8L475.1 905.9L476.0 897.2L476.8 898.6L477.6 891.5L478.5 885.8L479.3 868.2L480.2 867.2L481.0 859.4L481.8 855.3L482.7 838.9L483.5 830.5L484.4 810.6L485.2 801.0L486.0 786.4L486.9 779.2L487.7 758.1L488.6 746.1L489.4 740.4L490.2 733.9L491.1 714.0L491.9 700.6L492.8 684.8L493.6 680.8L494.4 667.9L495.3 664.6L496.1 648.2L497.0 632.9L497.8 627.0L498.6 617.7L499.5 610.1L500.3 618.1L501.2 610.9L502.0 595.7L502.8 607.9L503.7 595.9L504.5 585.6L505.4 589.2L506.2 584.1L507.0 578.7L507.9 571.1L508.7 581.1L509.6 583.9L510.4 572.7L511.2 593.9L512.1 598.3L512.9 597.7L513.8 607.9L514.6 614.4L515.4 620.6L516.3 632.1L517.1 649.2L518.0 642.4L518.8 659.3L519.6 667.5L520.5 672.1L521.3 683.4L522.2 689.1L523.0 703.1L523.8 719.4L524.7 734.5L525.5 743.6L526.4 776.2L527.2 774.6L528.0 789.2L528.9 797.1L529.7 805.1L530.6 821.2L531.4 819.9L532.2 835.2L533.1 840.4L533.9 835.7L534.8 850.9L535.6 848.3L536.4 868.8L537.3 860.4L538.1 863.8L539.0 865.6L539.8 874.7L540.6 883.9L541.5 887.4L542.3 890.9L543.2 897.0L544.0 902.1L544.8 912.0L545.7 899.9L546.5 907.1L547.4 907.3L548.2 907.0L549.0 910.8L549.9 915.6L550.7 927.3L551.6 929.7L552.4 934.9L553.2 944.9L554.1 946.9L554.9 947.6L555.8 952.9L556.6 950.4L557.4 960.0L558.3 963.1L559.1 963.6L560.0 964.6L560.8 980.9L561.6 979.0L562.5 993.7L563.3 983.0L564.2 992.4L565.0 989.7L565.8 995.4L566.7 1000.6L567.5 996.5L568.4 1002.6L569.2 1007.0L570.0 1010.2L570.9 1015.7L571.7 1020.9L572.6 1023.2L573.4 1023.6L574.2 1023.7L575.1 1023.0L575.9 1027.1L576.8 1030.3L577.6 1037.6L578.4 1035.5L579.3 1033.9L580.1 1043.6L581.0 1039.6L581.8 1041.5L582.6 1045.4L583.5 1049.8L584.3 1039.5L585.2 1046.3L586.0 1053.1L586.8 1052.4L587.7 1052.0L588.5 1055.0L589.4 1064.6L590.2 1059.0L591.0 1065.8L591.9 1068.4L592.7 1065.9L593.6 1072.2L594.4 1071.2L595.2 1073.2L596.1 1073.7L596.9 1084.0L597.8 1080.9L598.6 1082.2L599.4 1081.8L600.3 1095.3L601.1 1092.8L602.0 1091.0L602.8 1090.5L603.6 1088.7L604.5 1097.5L605.3 1098.9L606.2 1093.6L607.0 1105.1L607.8 1104.8L608.7 1099.2L609.5 1102.0L610.4 1103.7L611.2 1107.1L612.0 1107.0L612.9 1102.2L613.7 1115.4L614.6 1111.8L615.4 1116.5L616.2 1117.4L617.1 1112.6L617.9 1115.7L618.8 1118.1L619.6 1119.1L620.4 1116.4L621.3 1115.5L622.1 1118.9L623.0 1116.5L623.8 1118.3L624.6 1113.5L625.5 1122.5L626.3 1119.1L627.2 1121.8L628.0 1124.6L628.8 1126.9L629.7 1133.8L630.5 1128.2L631.4 1122.8L632.2 1129.6L633.0 1127.7L633.9 1132.4L634.7 1129.1L635.6 1129.8L636.4 1131.4L637.2 1131.9L638.1 1128.2L638.9 1133.6L639.8 1137.0L640.6 1142.6L641.4 1137.8L642.3 1138.4L643.1 1142.8L644.0 1143.5L644.8 1148.2L645.6 1145.0L646.5 1143.3L647.3 1149.0L648.2 1150.1L649.0 1142.9L649.8 1145.6L650.7 1139.0L651.5 1144.3L652.4 1142.6L653.2 1145.4L654.0 1144.7L654.9 1146.2L655.7 1146.7L656.6 1149.2L657.4 1148.5L658.2 1145.7L659.1 1143.3L659.9 1153.0L660.8 1154.0L661.6 1147.2L662.4 1151.3L663.3 1143.7L664.1 1144.0L665.0 1149.2L665.8 1156.2L666.6 1147.2L667.5 1148.5L668.3 1158.3L669.2 1145.7L670.0 1155.9L670.8 1155.9L671.7 1153.9L672.5 1156.0L673.4 1165.7L674.2 1152.3L675.0 1155.9L675.9 1156.7L676.7 1155.5L677.6 1153.4L678.4 1164.7L679.2 1159.8L680.1 1152.6L680.9 1156.7L681.8 1161.0L682.6 1161.1L683.4 1154.3L684.3 1159.5L685.1 1160.9L686.0 1161.4L686.8 1161.4L687.6 1153.0L688.5 1166.7L689.3 1160.5L690.2 1166.4L691.0 1169.2L691.8 1158.8L692.7 1154.6L693.5 1162.3L694.4 1158.2L695.2 1157.1L696.0 1154.8L696.9 1164.8L697.7 1156.8L698.6 1153.2L699.4 1156.8L700.2 1154.4L701.1 1159.5L701.9 1157.6L702.8 1155.6L703.6 1162.2L704.4 1157.9L705.3 1163.5L706.1 1165.9L707.0 1160.3L707.8 1159.7L708.6 1163.3L709.5 1166.3L710.3 1163.3L711.2 1164.2L712.0 1163.9L712.8 1165.4L713.7 1166.7L714.5 1161.9L715.4 1162.8L716.2 1164.9L717.0 1162.4L717.9 1165.5L718.7 1167.2L719.6 1165.3L720.4 1163.3L721.2 1162.8L722.1 1172.4L722.9 1169.4L723.8 1162.1L724.6 1163.4L725.4 1173.6L726.3 1172.4L727.1 1167.5L728.0 1171.4L728.8 1161.7L729.6 1167.3L730.5 1170.1L731.3 1160.5L732.2 1164.4L733.0 1170.2L733.8 1171.4L734.7 1164.9L735.5 1168.1L736.4 1172.8L737.2 1165.3L738.0 1161.6L738.9 1166.2L739.7 1164.8L740.6 1170.9L741.4 1166.5L742.2 1162.8L743.1 1174.5L743.9 1163.6L744.8 1167.1L745.6 1167.8L746.4 1168.2L747.3 1165.9L748.1 1167.4L749.0 1165.0L749.8 1160.1L750.6 1164.6L751.5 1164.9L752.3 1165.1L753.2 1166.5L754.0 1163.9L754.8 1171.4L755.7 1172.6L756.5 1158.9L757.4 1167.3L758.2 1164.9L759.0 1158.1L759.9 1169.6L760.7 1166.0L761.6 1167.1L762.4 1166.3L763.2 1173.0L764.1 1173.8L764.9 1170.4L765.8 1172.2L766.6 1169.5L767.4 1170.7L768.3 1167.7L769.1 1170.9L770.0 1168.5L770.8 1172.9L771.6 1175.0L772.5 1173.4L773.3 1177.1L774.2 1182.7L775.0 1165.6L775.8 1173.8L776.7 1172.0L777.5 1172.7L778.4 1169.6L779.2 1175.0L780.0 1174.1L780.9 1172.9L781.7 1174.4L782.6 1173.2L783.4 1166.7L784.2 1179.3L785.1 1174.2L785.9 1171.7L786.8 1176.2L787.6 1172.4L788.4 1166.6L789.3 1177.8L790.1 1168.1L791.0 1173.3L791.8 1174.4L792.6 1178.7L793.5 1178.0L794.3 1174.1L795.2 1170.6L796.0 1171.8L796.8 1177.4L797.7 1180.0L798.5 1175.4L799.4 1171.1L800.2 1177.3L801.0 1172.2L801.9 1172.2L802.7 1172.8L803.6 1176.1L804.4 1175.1L805.2 1177.8L806.1 1179.0L806.9 1176.2L807.8 1165.7L808.6 1168.1L809.4 1175.0L810.3 1174.2L811.1 1182.4L812.0 1174.2L812.8 1173.7L813.6 1177.7L814.5 1178.1L815.3 1173.2L816.2 1175.8L817.0 1169.8L817.8 1170.4L818.7 1178.4L819.5 1168.7L820.4 1177.3L821.2 1176.4L822.0 1176.8L822.9 1177.4L823.7 1176.2L824.6 1166.3L825.4 1170.6L826.2 1172.2L827.1 1178.0L827.9 1170.5L828.8 1172.2L829.6 1173.6L830.4 1179.9L831.3 1169.8L832.1 1170.2L833.0 1177.6L833.8 1167.5L834.6 1176.7L835.5 1173.8L836.3 1169.7L837.2 1174.0L838.0 1171.9L838.8 1176.3L839.7 1177.1L840.5 1181.3L841.4 1175.8L842.2 1176.3L843.0 1173.9L843.9 1176.0L844.7 1180.0L845.6 1169.1L846.4 1178.8L847.2 1174.4L848.1 1176.8L848.9 1177.8L849.8 1179.8L850.6 1177.6L851.4 1175.3L852.3 1178.0L853.1 1176.9L854.0 1176.1L854.8 1177.6L855.6 1180.1L856.5 1177.3L857.3 1177.3L858.2 1171.9L859.0 1176.1L859.8 1169.6L860.7 1179.0L861.5 1172.7L862.4 1180.9L863.2 1185.6L864.0 1174.3L864.9 1180.6L865.7 1177.0L866.6 1173.2L867.4 1172.0L868.2 1177.0L869.1 1179.9L869.9 1175.9L870.8 1168.9L871.6 1170.5L872.4 1173.4L873.3 1179.1L874.1 1175.1L875.0 1175.2L875.8 1178.4L876.6 1173.2L877.5 1173.6L878.3 1173.2L879.2 1167.3L880.0 1175.6L880.8 1175.3L881.7 1177.4L882.5 1169.3L883.4 1170.6L884.2 1176.9L885.0 1174.5L885.9 1178.3L886.7 1169.9L887.6 1173.7L888.4 1170.3L889.2 1173.8L890.1 1170.7L890.9 1174.4L891.8 1176.3L892.6 1174.8L893.4 1165.5L894.3 1175.6L895.1 1173.8L896.0 1168.3L896.8 1168.9L897.6 1172.2L898.5 1174.3L899.3 1170.5L900.2 1166.1L901.0 1173.1L901.8 1172.7L902.7 1181.1L903.5 1167.2L904.4 1181.3L905.2 1178.3L906.0 1172.9L906.9 1177.9L907.7 1172.1L908.6 1175.3L909.4 1168.9L910.2 1171.9L911.1 1167.9L911.9 1165.8L912.8 1170.7L913.6 1169.4L914.4 1174.0L915.3 1176.7L916.1 1171.4L917.0 1172.4L917.8 1172.9L918.6 1166.1L919.5 1173.5L920.3 1172.6L921.2 1172.5L922.0 1168.7L922.8 1165.5L923.7 1171.9L924.5 1174.1L925.4 1177.9L926.2 1177.1L927.0 1178.3L927.9 1174.2L928.7 1177.0L929.6 1171.9L930.4 1174.8L931.2 1175.7L932.1 1181.7L932.9 1172.8L933.8 1166.9L934.6 1176.5L935.4 1168.3L936.3 1170.8L937.1 1169.7L938.0 1167.3L938.8 1175.5L939.6 1172.7L940.5 1168.1L941.3 1170.6L942.2 1168.7L943.0 1172.5L943.8 1168.8L944.7 1167.3L945.5 1167.7L946.4 1168.4L947.2 1171.0L948.0 1166.5L948.9 1169.4L949.7 1171.3L950.6 1178.2L951.4 1172.6L952.2 1159.7L953.1 1167.3L953.9 1167.6L954.8 1170.2L955.6 1174.8L956.4 1171.8L957.3 1160.5L958.1 1170.3L959.0 1169.6L959.8 1170.9L960.6 1174.6L961.5 1165.7L962.3 1174.0L963.2 1164.0L964.0 1170.5L964.8 1171.9L965.7 1179.2L966.5 1168.3L967.4 1164.8L968.2 1173.8L969.0 1168.9L969.9 1177.3L970.7 1169.0L971.6 1168.4L972.4 1176.4L973.2 1172.1L974.1 1175.6L974.9 1166.6L975.8 1178.0L976.6 1169.8L977.4 1175.0L978.3 1168.2L979.1 1166.2L980.0 1171.0L980.8 1172.5L981.6 1177.7L982.5 1173.1L983.3 1174.3L984.2 1174.1L985.0 1181.2L985.8 1168.4L986.7 1176.0L987.5 1170.7L988.4 1172.0L989.2 1168.9L990.0 1175.1L990.9 1166.0L991.7 1165.5L992.6 1169.5L993.4 1165.7L994.2 1172.4L995.1 1173.0L995.9 1166.5L996.8 1172.0L997.6 1166.4L998.4 1168.5L999.3 1168.6L1000.1 1175.3L1001.0 1168.3L1001.8 1164.8L1002.6 1164.7L1003.5 1172.5L1004.3 1161.9L1005.2 1166.3L1006.0 1166.7L1006.8 1159.0L1007.7 1166.4L1008.5 1171.9L1009.4 1169.1L1010.2 1164.9L1011.0 1170.9L1011.9 1170.2L1012.7 1175.9L1013.6 1165.7L1014.4 1167.0L1015.2 1168.6L1016.1 1167.9L1016.9 1168.8L1017.8 1168.1L1018.6 1165.9L1019.4 1162.5L1020.3 1166.4L1021.1 1163.4L1022.0 1164.7L1022.8 1166.6L1023.6 1170.6L1024.5 1172.0L1025.3 1165.2L1026.2 1170.3L1027.0 1172.3L1027.8 1169.3L1028.7 1163.6L1029.5 1161.8L1030.4 1172.9L1031.2 1173.5L1032.0 1171.2L1032.9 1166.3L1033.7 1175.6L1034.6 1174.7L1035.4 1170.0L1036.2 1169.2L1037.1 1162.6L1037.9 1172.5L1038.8 1163.6L1039.6 1171.9L1040.4 1171.8L1041.3 1169.3L1042.1 1174.6L1043.0 1167.5L1043.8 1170.8L1044.6 1171.5L1045.5 1169.5L1046.3 1167.0L1047.2 1173.2L1048.0 1170.4L1048.8 1168.3L1049.7 1168.6L1050.5 1169.9L1051.4 1178.1L1052.2 1170.3L1053.0 1169.3L1053.9 1166.5L1054.7 1166.1L1055.6 1163.8L1056.4 1171.8L1057.2 1171.2L1058.1 1167.3L1058.9 1165.6L1059.8 1169.9L1060.6 1169.1L1061.4 1166.1L1062.3 1172.0L1063.1 1171.3L1064.0 1170.4L1064.8 1173.3L1065.6 1167.9L1066.5 1175.2L1067.3 1166.2L1068.2 1171.7L1069.0 1172.1L1069.8 1168.6L1070.7 1170.8L1071.5 1164.6L1072.4 1163.7L1073.2 1168.5L1074.0 1166.5L1074.9 1171.4L1075.7 1169.4L1076.6 1171.6L1077.4 1170.6L1078.2 1170.2L1079.1 1169.9L1079.9 1168.3L1080.8 1168.1L1081.6 1177.4L1082.4 1163.5L1083.3 1169.4L1084.1 1173.8L1085.0 1171.7L1085.8 1175.4L1086.6 1172.2L1087.5 1165.4L1088.3 1168.9L1089.2 1164.8L1090.0 1173.6L1090.8 1175.3L1091.7 1168.3L1092.5 1171.9L1093.4 1168.4L1094.2 1164.6L1095.0 1168.3L1095.9 1164.1L1096.7 1168.0L1097.6 1170.9L1098.4 1172.9L1099.2 1175.1L1100.1 1169.1L1100.9 1171.3L1101.8 1172.0L1102.6 1172.5L1103.4 1161.1L1104.3 1167.7L1105.1 1173.5L1106.0 1166.4L1106.8 1171.4L1107.6 1173.5L1108.5 1163.4L1109.3 1169.6L1110.2 1171.1L1111.0 1170.2L1111.8 1164.4L1112.7 1171.3L1113.5 1167.9L1114.4 1173.0L1115.2 1171.5L1116.0 1167.8L1116.9 1170.5L1117.7 1167.4L1118.6 1167.4L1119.4 1164.2L1120.2 1169.3L1121.1 1173.4L1121.9 1171.0L1122.8 1170.7L1123.6 1168.7L1124.4 1169.4L1125.3 1174.3L1126.1 1166.3L1127.0 1179.8L1127.8 1172.2L1128.6 1180.7L1129.5 1177.2L1130.3 1171.5L1131.2 1175.9L1132.0 1174.3L1132.8 1175.2L1133.7 1176.5L1134.5 1171.5L1135.4 1171.3L1136.2 1172.1L1137.0 1168.6L1137.9 1172.7L1138.7 1174.5L1139.6 1174.5L1140.4 1174.3L1141.2 1172.1L1142.1 1176.4L1142.9 1165.8L1143.8 1171.9L1144.6 1172.1L1145.4 1176.5L1146.3 1175.5L1147.1 1175.9L1148.0 1172.9L1148.8 1176.3L1149.6 1169.0L1150.5 1172.9L1151.3 1164.7L1152.2 1178.9L1153.0 1178.4L1153.8 1170.3L1154.7 1169.5L1155.5 1164.9L1156.4 1167.1L1157.2 1173.3L1158.0 1172.4L1158.9 1167.6L1159.7 1171.3L1160.6 1170.8L1161.4 1175.0L1162.2 1176.0L1163.1 1172.6L1163.9 1173.9L1164.8 1173.4L1165.6 1165.8L1166.4 1174.2L1167.3 1173.3L1168.1 1176.3L1169.0 1166.7L1169.8 1176.4L1170.6 1171.1L1171.5 1174.5L1172.3 1177.9L1173.2 1167.9L1174.0 1168.4L1174.8 1176.8L1175.7 1168.7L1176.5 1169.2L1177.4 1174.8L1178.2 1171.6L1179.0 1175.0L1179.9 1173.1L1180.7 1171.7L1181.6 1175.3L1182.4 1179.6L1183.2 1171.0L1184.1 1176.8L1184.9 1175.4L1185.8 1171.6L1186.6 1172.9L1187.4 1167.8L1188.3 1169.0L1189.1 1172.3L1190.0 1171.2L1190.8 1176.2L1191.6 1166.6L1192.5 1170.3L1193.3 1169.0L1194.2 1170.8L1195.0 1175.6L1195.8 1166.8L1196.7 1174.4L1197.5 1169.0L1198.4 1169.9L1199.2 1174.7L1200.0 1170.0L1200.9 1173.5L1201.7 1171.4L1202.6 1170.3L1203.4 1169.7L1204.2 1164.6L1205.1 1168.2L1205.9 1171.6L1206.8 1171.8L1207.6 1165.5L1208.4 1174.7L1209.3 1173.0L1210.1 1166.0L1211.0 1166.9L1211.8 1172.5L1212.6 1164.0L1213.5 1167.7L1214.3 1170.1L1215.2 1169.7L1216.0 1169.9L1216.8 1171.4L1217.7 1166.8L1218.5 1167.8L1219.4 1177.1L1220.2 1164.1L1221.0 1167.5L1221.9 1169.4L1222.7 1166.4L1223.6 1173.1L1224.4 1168.6L1225.2 1171.0L1226.1 1158.7L1226.9 1172.2L1227.8 1171.9L1228.6 1164.6L1229.4 1172.1L1230.3 1168.0L1231.1 1170.3L1232.0 1173.5L1232.8 1166.9L1233.6 1162.5L1234.5 1166.0L1235.3 1161.0L1236.2 1162.4L1237.0 1162.2L1237.8 1162.0L1238.7 1168.5L1239.5 1166.6L1240.4 1159.4L1241.2 1166.1L1242.0 1154.7L1242.9 1157.5L1243.7 1158.4L1244.6 1162.4L1245.4 1159.6L1246.2 1157.5L1247.1 1159.6L1247.9 1156.3L1248.8 1157.5L1249.6 1148.2L1250.4 1143.5L1251.3 1146.9L1252.1 1150.3L1253.0 1146.7L1253.8 1147.5L1254.6 1145.3L1255.5 1142.8L1256.3 1142.2L1257.2 1134.5L1258.0 1139.5L1258.8 1129.4L1259.7 1130.6L1260.5 1123.4L1261.4 1128.4L1262.2 1117.9L1263.0 1126.7L1263.9 1113.1L1264.7 1116.3L1265.6 1111.6L1266.4 1105.4L1267.2 1110.3L1268.1 1100.1L1268.9 1103.8L1269.8 1090.0L1270.6 1086.4L1271.4 1076.5L1272.3 1080.5L1273.1 1074.2L1274.0 1063.4L1274.8 1055.1L1275.6 1046.2L1276.5 1054.4L1277.3 1042.8L1278.2 1027.5L1279.0 1029.6L1279.8 1016.3L1280.7 1029.8L1281.5 1028.1L1282.4 1022.7L1283.2 1013.2L1284.0 1007.9L1284.9 1001.4L1285.7 1006.5L1286.6 997.9L1287.4 996.6L1288.2 992.8L1289.1 992.1L1289.9 995.7L1290.8 997.9L1291.6 990.3L1292.4 989.0L1293.3 983.8L1294.1 983.4L1295.0 984.3L1295.8 993.0L1296.6 990.6L1297.5 994.3L1298.3 992.7L1299.2 990.5L1300.0 988.9L1300.8 995.2L1301.7 994.1L1302.5 1013.9L1303.4 1012.0L1304.2 1013.7L1305.0 1027.0L1305.9 1019.9L1306.7 1026.6L1307.6 1026.5L1308.4 1032.0L1309.2 1033.3L1310.1 1042.2L1310.9 1051.3L1311.8 1044.2L1312.6 1043.2L1313.4 1060.4L1314.3 1057.7L1315.1 1062.6L1316.0 1060.0L1316.8 1069.7L1317.6 1073.2L1318.5 1063.4L1319.3 1073.3L1320.2 1070.4L1321.0 1068.6L1321.8 1076.1L1322.7 1081.6L1323.5 1075.8L1324.4 1078.0L1325.2 1090.1L1326.0 1087.1L1326.9 1090.5L1327.7 1086.1L1328.6 1089.9L1329.4 1094.8L1330.2 1096.8L1331.1 1098.4L1331.9 1105.7L1332.8 1101.6L1333.6 1096.4L1334.4 1100.5L1335.3 1105.2L1336.1 1111.9L1337.0 1105.6L1337.8 1108.3L1338.6 1111.3L1339.5 1110.3L1340.3 1111.4L1341.2 1115.4L1342.0 1121.9L1342.8 1121.6L1343.7 1120.2L1344.5 1124.6L1345.4 1119.8L1346.2 1130.4L1347.0 1131.1L1347.9 1131.2L1348.7 1125.6L1349.6 1141.6L1350.4 1126.1L1351.2 1133.5L1352.1 1135.5L1352.9 1143.3L1353.8 1136.4L1354.6 1144.5L1355.4 1144.4L1356.3 1145.3L1357.1 1151.1L1358.0 1154.5L1358.8 1151.9L1359.6 1150.5L1360.5 1144.0L1361.3 1159.3L1362.2 1153.6L1363.0 1148.7L1363.8 1157.3L1364.7 1163.1L1365.5 1157.9L1366.4 1154.8L1367.2 1168.5L1368.0 1162.9L1368.9 1162.4L1369.7 1165.4L1370.6 1153.7L1371.4 1162.0L1372.2 1161.9L1373.1 1171.3L1373.9 1160.9L1374.8 1161.1L1375.6 1158.2L1376.4 1160.5L1377.3 1163.0L1378.1 1165.0L1379.0 1163.4L1379.8 1171.9L1380.6 1166.4L1381.5 1167.1L1382.3 1170.1L1383.2 1167.5L1384.0 1163.3L1384.8 1159.6L1385.7 1167.0L1386.5 1162.6L1387.4 1170.8L1388.2 1163.1L1389.0 1157.6L1389.9 1166.2L1390.7 1170.1L1391.6 1165.4L1392.4 1166.8L1393.2 1166.7L1394.1 1172.6L1394.9 1167.2L1395.8 1165.9L1396.6 1163.8L1397.4 1159.9L1398.3 1171.4L1399.1 1170.5L1400.0 1162.7L1400.8 1168.7L1401.6 1167.8L1402.5 1165.3L1403.3 1165.8L1404.2 1170.1L1405.0 1163.1L1405.8 1166.0L1406.7 1168.0L1407.5 1168.7L1408.4 1168.3L1409.2 1170.4L1410.0 1171.9L1410.9 1167.0L1411.7 1171.0L1412.6 1169.0L1413.4 1176.9L1414.2 1166.2L1415.1 1170.8L1415.9 1174.5L1416.8 1171.0L1417.6 1170.9L1418.4 1170.3L1419.3 1173.6L1420.1 1168.2L1421.0 1172.3L1421.8 1172.4L1422.6 1167.3L1423.5 1174.0L1424.3 1171.3L1425.2 1174.3L1426.0 1176.4L1426.8 1174.5L1427.7 1168.9L1428.5 1174.6L1429.4 1167.4L1430.2 1170.5L1431.0 1179.6L1431.9 1173.4L1432.7 1179.1L1433.6 1172.6L1434.4 1173.2L1435.2 1168.9L1436.1 1176.6L1436.9 1172.2L1437.8 1175.2L1438.6 1174.4L1439.4 1174.7L1440.3 1173.9L1441.1 1172.4L1442.0 1172.5L1442.8 1169.9L1443.6 1164.5L1444.5 1174.3L1445.3 1180.2L1446.2 1176.4L1447.0 1181.1L1447.8 1174.1L1448.7 1168.6L1449.5 1168.4L1450.4 1174.8L1451.2 1173.2L1452.0 1171.2L1452.9 1174.5L1453.7 1168.3L1454.6 1173.5L1455.4 1170.4L1456.2 1171.9L1457.1 1175.7L1457.9 1170.7L1458.8 1176.3L1459.6 1176.0L1460.4 1168.2L1461.3 1179.7L1462.1 1166.3L1463.0 1170.5L1463.8 1173.6L1464.6 1162.3L1465.5 1174.8L1466.3 1175.2L1467.2 1170.7L1468.0 1172.2L1468.8 1172.2L1469.7 1170.8L1470.5 1175.8L1471.4 1170.7L1472.2 1172.1L1473.0 1173.9L1473.9 1175.9L1474.7 1177.1L1475.6 1167.6L1476.4 1165.7L1477.2 1172.9L1478.1 1173.4L1478.9 1169.6L1479.8 1174.9L1480.6 1176.1L1481.4 1175.2L1482.3 1180.0L1483.1 1169.9L1484.0 1173.8L1484.8 1181.0L1485.6 1176.3L1486.5 1169.5L1487.3 1174.5L1488.2 1178.1L1489.0 1181.5L1489.8 1176.3L1490.7 1178.2L1491.5 1169.8L1492.4 1173.1L1493.2 1178.6L1494.0 1170.7L1494.9 1174.2L1495.7 1167.5L1496.6 1180.2L1497.4 1174.3L1498.2 1177.0L1499.1 1169.3L1499.9 1170.1L1500.8 1181.9L1501.6 1173.8L1502.4 1173.1L1503.3 1177.0L1504.1 1177.2L1505.0 1167.7L1505.8 1171.4L1506.6 1175.3L1507.5 1175.1L1508.3 1176.3L1509.2 1173.4L1510.0 1174.0L1510.8 1175.8L1511.7 1172.4L1512.5 1171.9L1513.4 1172.9L1514.2 1175.0L1515.0 1174.4L1515.9 1173.1L1516.7 1173.9L1517.6 1174.6L1518.4 1175.9L1519.2 1176.0L1520.1 1169.7L1520.9 1178.0L1521.8 1168.3L1522.6 1176.2L1523.4 1171.4L1524.3 1176.1L1525.1 1177.7L1526.0 1166.6L1526.8 1175.8L1527.6 1174.5L1528.5 1171.6L1529.3 1174.7L1530.2 1171.3L1531.0 1173.5L1531.8 1169.1L1532.7 1175.8L1533.5 1175.0L1534.4 1175.4L1535.2 1170.1L1536.0 1179.2L1536.9 1179.6L1537.7 1171.7L1538.6 1170.3L1539.4 1170.2L1540.2 1174.1L1541.1 1175.2L1541.9 1168.4L1542.8 1163.5L1543.6 1172.6L1544.4 1170.6L1545.3 1171.3L1546.1 1172.5L1547.0 1166.3L1547.8 1170.7L1548.6 1169.3L1549.5 1171.7L1550.3 1174.9L1551.2 1170.3L1552.0 1167.1L1552.8 1175.0L1553.7 1173.0L1554.5 1169.7L1555.4 1163.8L1556.2 1167.3L1557.0 1171.2L1557.9 1172.6L1558.7 1168.6L1559.6 1172.0L1560.4 1167.9L1561.2 1168.5L1562.1 1171.8L1562.9 1168.5L1563.8 1169.8L1564.6 1172.2L1565.4 1172.8L1566.3 1166.1L1567.1 1167.0L1568.0 1162.7L1568.8 1162.4L1569.6 1168.0L1570.5 1164.5L1571.3 1159.1L1572.2 1167.7L1573.0 1162.1L1573.8 1163.7L1574.7 1166.0L1575.5 1165.6L1576.4 1163.5L1577.2 1155.9L1578.0 1165.1L1578.9 1160.4L1579.7 1157.0L1580.6 1153.7L1581.4 1166.6L1582.2 1161.9L1583.1 1161.4L1583.9 1163.0L1584.8 1160.1L1585.6 1154.5L1586.4 1162.2L1587.3 1163.0L1588.1 1160.9L1589.0 1164.3L1589.8 1165.3L1590.6 1154.7L1591.5 1155.7L1592.3 1160.2L1593.2 1157.1L1594.0 1156.7L1594.8 1159.0L1595.7 1157.7L1596.5 1152.7L1597.4 1154.2L1598.2 1150.4L1599.0 1151.6L1599.9 1147.4L1600.7 1143.4L1601.6 1148.1L1602.4 1146.9L1603.2 1151.6L1604.1 1153.3L1604.9 1146.5L1605.8 1147.3L1606.6 1142.1L1607.4 1140.1L1608.3 1141.5L1609.1 1140.6L1610.0 1141.8L1610.8 1140.2L1611.6 1145.1L1612.5 1136.9L1613.3 1130.3L1614.2 1135.9L1615.0 1131.7L1615.8 1133.6L1616.7 1135.7L1617.5 1127.4L1618.4 1128.0L1619.2 1128.6L1620.0 1121.2L1620.9 1124.0L1621.7 1123.4L1622.6 1122.6L1623.4 1121.9L1624.2 1118.0L1625.1 1115.5L1625.9 1106.6L1626.8 1100.1L1627.6 1104.4L1628.4 1111.7L1629.3 1104.6L1630.1 1093.3L1631.0 1098.4L1631.8 1099.3L1632.6 1088.4L1633.5 1095.7L1634.3 1086.4L1635.2 1092.4L1636.0 1085.6L1636.8 1093.0L1637.7 1074.2L1638.5 1077.8L1639.4 1067.8L1640.2 1075.6L1641.0 1069.0L1641.9 1069.8L1642.7 1064.4L1643.6 1057.1L1644.4 1057.1L1645.2 1052.6L1646.1 1051.4L1646.9 1054.4L1647.8 1056.5L1648.6 1054.1L1649.4 1051.3L1650.3 1045.7L1651.1 1049.1L1652.0 1042.6L1652.8 1046.1L1653.6 1047.8L1654.5 1042.9L1655.3 1041.1L1656.2 1040.8L1657.0 1044.9L1657.8 1041.0L1658.7 1036.6L1659.5 1041.0L1660.4 1038.8L1661.2 1049.9L1662.0 1044.4L1662.9 1039.1L1663.7 1047.0L1664.6 1049.7L1665.4 1049.3L1666.2 1047.6L1667.1 1051.3L1667.9 1053.6L1668.8 1058.6L1669.6 1058.1L1670.4 1068.0L1671.3 1060.1L1672.1 1069.5L1673.0 1066.2L1673.8 1062.3L1674.6 1067.7L1675.5 1068.5L1676.3 1072.2L1677.2 1087.1L1678.0 1082.7L1678.8 1090.4L1679.7 1086.8L1680.5 1092.1L1681.4 1089.5L1682.2 1098.5L1683.0 1095.4L1683.9 1095.8L1684.7 1098.0L1685.6 1108.3L1686.4 1102.5L1687.2 1105.1L1688.1 1098.0L1688.9 1101.4L1689.8 1106.1L1690.6 1098.9L1691.4 1112.6L1692.3 1109.7L1693.1 1109.8L1694.0 1110.4L1694.8 1111.4L1695.6 1111.6L1696.5 1120.1L1697.3 1118.6L1698.2 1121.8L1699.0 1117.0L1699.8 1115.9L1700.7 1125.6L1701.5 1116.7L1702.4 1120.1L1703.2 1126.3L1704.0 1128.9L1704.9 1120.8L1705.7 1126.0L1706.6 1128.3L1707.4 1128.9L1708.2 1127.3L1709.1 1134.4L1709.9 1131.0L1710.8 1133.2L1711.6 1126.7L1712.4 1135.9L1713.3 1130.0L1714.1 1141.0L1715.0 1141.2L1715.8 1138.3L1716.6 1141.8L1717.5 1142.5L1718.3 1142.4L1719.2 1145.2L1720.0 1144.3L1720.8 1143.8L1721.7 1143.5L1722.5 1153.6L1723.4 1148.8L1724.2 1148.7L1725.0 1152.2L1725.9 1148.7L1726.7 1149.3L1727.6 1153.8L1728.4 1155.7L1729.2 1154.9L1730.1 1147.4L1730.9 1153.6L1731.8 1153.8L1732.6 1156.1L1733.4 1151.6L1734.3 1151.4L1735.1 1155.3L1736.0 1152.9L1736.8 1152.7L1737.6 1156.8L1738.5 1161.0L1739.3 1158.5L1740.2 1162.6L1741.0 1155.2L1741.8 1161.9L1742.7 1159.7L1743.5 1156.9L1744.4 1159.0L1745.2 1157.7L1746.0 1160.4L1746.9 1158.7L1747.7 1166.3L1748.6 1160.5L1749.4 1156.7L1750.2 1161.4L1751.1 1163.7L1751.9 1161.2L1752.8 1165.6L1753.6 1159.1L1754.4 1159.4L1755.3 1168.6L1756.1 1162.7L1757.0 1164.8L1757.8 1164.7L1758.6 1165.1L1759.5 1163.3L1760.3 1162.6L1761.2 1167.5L1762.0 1162.0L1762.8 1164.4L1763.7 1166.8L1764.5 1163.2L1765.4 1159.4L1766.2 1167.0L1767.0 1169.7L1767.9 1167.1L1768.7 1160.5L1769.6 1169.4L1770.4 1174.7L1771.2 1162.3L1772.1 1158.7L1772.9 1167.8L1773.8 1169.4L1774.6 1172.3L1775.4 1172.7L1776.3 1170.4L1777.1 1172.2L1778.0 1171.7L1778.8 1171.1L1779.6 1170.6L1780.5 1170.3L1781.3 1173.5L1782.2 1172.4L1783.0 1169.4L1783.8 1174.8L1784.7 1168.1L1785.5 1169.8L1786.4 1171.0L1787.2 1163.4L1788.0 1168.8L1788.9 1173.1L1789.7 1172.7L1790.6 1165.3L1791.4 1166.5L1792.2 1165.5L1793.1 1168.4L1793.9 1169.0L1794.8 1163.4L1795.6 1170.3L1796.4 1169.5L1797.3 1169.0L1798.1 1167.0L1799.0 1168.9L1799.8 1163.3L1800.6 1170.7L1801.5 1170.8L1802.3 1169.8L1803.2 1166.1L1804.0 1175.1L1804.8 1174.8L1805.7 1164.1L1806.5 1172.5L1807.4 1171.7L1808.2 1162.0L1809.0 1173.3L1809.9 1173.9L1810.7 1174.2L1811.6 1172.3L1812.4 1169.5L1813.2 1170.1L1814.1 1174.0L1814.9 1176.5L1815.8 1170.6L1816.6 1171.6L1817.4 1175.2L1818.3 1165.1L1819.1 1174.7L1820.0 1172.4L1820.8 1165.5L1821.6 1176.3L1822.5 1170.4L1823.3 1176.6L1824.2 1178.8L1825.0 1169.4L1825.8 1169.6L1826.7 1173.9L1827.5 1167.7L1828.4 1176.6L1829.2 1174.6L1830.0 1177.5L1830.9 1167.3L1831.7 1174.7L1832.6 1175.6L1833.4 1167.5L1834.2 1177.2L1835.1 1169.1L1835.9 1174.8L1836.8 1169.6L1837.6 1177.3L1838.4 1180.7L1839.3 1174.9L1840.1 1175.0L1841.0 1179.7L1841.8 1173.6L1842.6 1175.5L1843.5 1178.3L1844.3 1177.0" fill="none" stroke="#ff0000" stroke-width="1.5" stroke-linejoin="round"/></g>
<line x1="392.8" y1="50" x2="392.8" y2="1278" stroke="#000" stroke-width="3.3" stroke-dasharray="4.3 13.42"/><line x1="1089.5" y1="50" x2="1089.5" y2="1278" stroke="#000" stroke-width="3.3" stroke-dasharray="4.3 13.42"/><line x1="1412.7" y1="50" x2="1412.7" y2="1278" stroke="#000" stroke-width="3.3" stroke-dasharray="4.3 13.42"/>
<line x1="527.3" y1="50" x2="527.3" y2="1278" stroke="#1f931f" stroke-width="3.3" stroke-dasharray="4.3 13.42"/><line x1="1325" y1="50" x2="1325" y2="1278" stroke="#1f931f" stroke-width="3.3" stroke-dasharray="4.3 13.42"/><line x1="1690" y1="50" x2="1690" y2="1278" stroke="#1f931f" stroke-width="3.3" stroke-dasharray="4.3 13.42"/>
<rect x="166.2" y="42" width="1679" height="1236" fill="none" stroke="#000" stroke-width="4"/>
<line x1="166.20" y1="1278" x2="166.20" y2="1302" stroke="#000" stroke-width="4"/><line x1="271.14" y1="1278" x2="271.14" y2="1290" stroke="#000" stroke-width="4"/><line x1="376.07" y1="1278" x2="376.07" y2="1302" stroke="#000" stroke-width="4"/><line x1="481.01" y1="1278" x2="481.01" y2="1290" stroke="#000" stroke-width="4"/><line x1="585.95" y1="1278" x2="585.95" y2="1302" stroke="#000" stroke-width="4"/><line x1="690.89" y1="1278" x2="690.89" y2="1290" stroke="#000" stroke-width="4"/><line x1="795.83" y1="1278" x2="795.83" y2="1302" stroke="#000" stroke-width="4"/><line x1="900.76" y1="1278" x2="900.76" y2="1290" stroke="#000" stroke-width="4"/><line x1="1005.70" y1="1278" x2="1005.70" y2="1302" stroke="#000" stroke-width="4"/><line x1="1110.64" y1="1278" x2="1110.64" y2="1290" stroke="#000" stroke-width="4"/><line x1="1215.58" y1="1278" x2="1215.58" y2="1302" stroke="#000" stroke-width="4"/><line x1="1320.51" y1="1278" x2="1320.51" y2="1290" stroke="#000" stroke-width="4"/><line x1="1425.45" y1="1278" x2="1425.45" y2="1302" stroke="#000" stroke-width="4"/><line x1="1530.39" y1="1278" x2="1530.39" y2="1290" stroke="#000" stroke-width="4"/><line x1="1635.33" y1="1278" x2="1635.33" y2="1302" stroke="#000" stroke-width="4"/><line x1="1740.26" y1="1278" x2="1740.26" y2="1290" stroke="#000" stroke-width="4"/><line x1="1845.20" y1="1278" x2="1845.20" y2="1302" stroke="#000" stroke-width="4"/>
<g font-size="54" fill="#000" stroke="#000"><text x="166.2" y="1358" text-anchor="middle">20</text><text x="376.075" y="1358" text-anchor="middle">25</text><text x="585.95" y="1358" text-anchor="middle">30</text><text x="795.825" y="1358" text-anchor="middle">35</text><text x="1005.7" y="1358" text-anchor="middle">40</text><text x="1215.575" y="1358" text-anchor="middle">45</text><text x="1425.45" y="1358" text-anchor="middle">50</text><text x="1635.325" y="1358" text-anchor="middle">55</text><text x="1845.2" y="1358" text-anchor="middle">60</text></g>
<text x="1005.5" y="1457" font-size="65" text-anchor="middle" fill="#000" stroke="#000">2θ (°)</text>
<text transform="translate(86,657) rotate(-90)" font-size="65" text-anchor="middle" fill="#000" stroke="#000">Intensity (a.u.)</text>
</svg>
</body></html>
